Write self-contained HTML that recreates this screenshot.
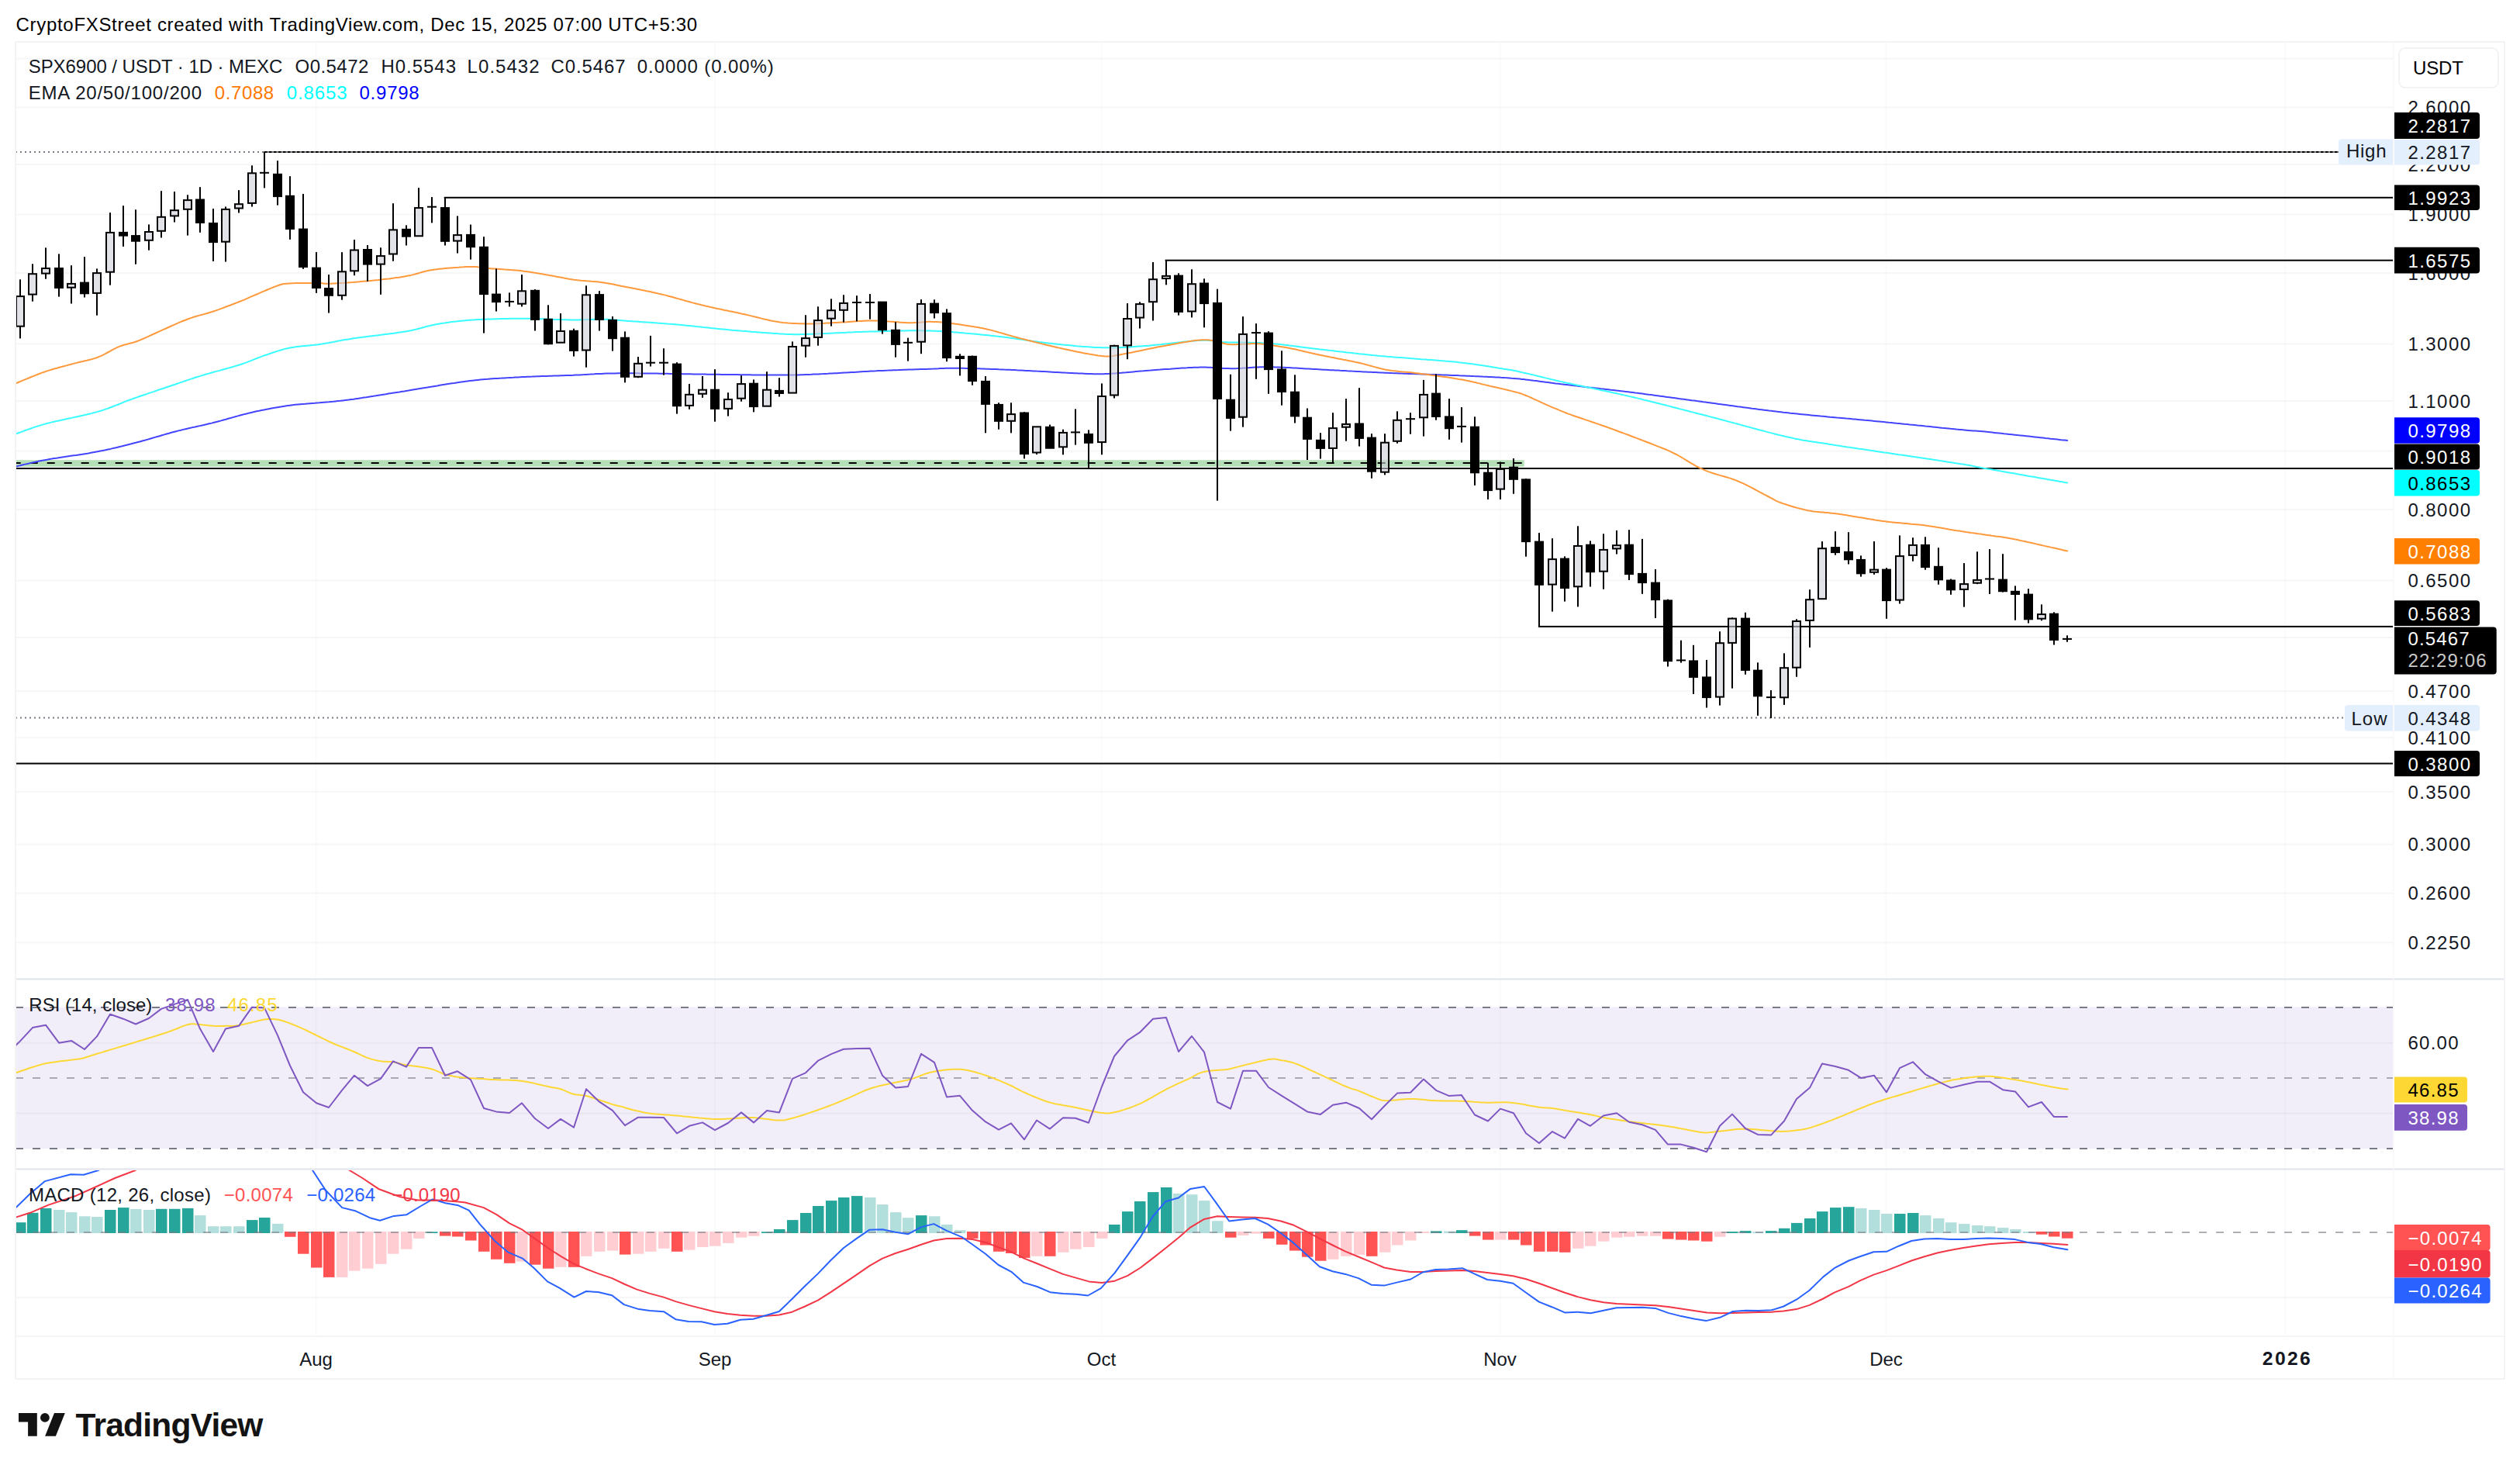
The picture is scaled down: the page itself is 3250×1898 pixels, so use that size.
<!DOCTYPE html>
<html><head><meta charset="utf-8"><title>SPX6900 / USDT chart</title>
<style>html,body{margin:0;padding:0;background:#fff;} body{width:3250px;height:1898px;overflow:hidden;} svg{display:block;}</style>
</head><body>
<svg width="3250" height="1898" viewBox="0 0 3250 1898" font-family="'Liberation Sans', Arial, sans-serif">
<defs>
<clipPath id="cm"><rect x="20" y="54" width="3066" height="1208"/></clipPath>
<clipPath id="cr"><rect x="20" y="1263" width="3066" height="244"/></clipPath>
<clipPath id="cd"><rect x="20" y="1509" width="3066" height="213"/></clipPath>
</defs>
<rect x="0" y="0" width="3250" height="1898" fill="#ffffff"/>
<text x="20.6" y="40.4" font-size="24" fill="#000000" textLength="878.6" lengthAdjust="spacing">CryptoFXStreet created with TradingView.com, Dec 15, 2025 07:00 UTC+5:30</text>
<rect x="20" y="74.6" width="3066" height="2" fill="rgba(42,46,57,0.045)"/>
<rect x="20" y="137.5" width="3066" height="2" fill="rgba(42,46,57,0.045)"/>
<rect x="20" y="211" width="3066" height="2" fill="rgba(42,46,57,0.045)"/>
<rect x="20" y="275.5" width="3066" height="2" fill="rgba(42,46,57,0.045)"/>
<rect x="20" y="351.1" width="3066" height="2" fill="rgba(42,46,57,0.045)"/>
<rect x="20" y="442.5" width="3066" height="2" fill="rgba(42,46,57,0.045)"/>
<rect x="20" y="516" width="3066" height="2" fill="rgba(42,46,57,0.045)"/>
<rect x="20" y="580.5" width="3066" height="2" fill="rgba(42,46,57,0.045)"/>
<rect x="20" y="656.1" width="3066" height="2" fill="rgba(42,46,57,0.045)"/>
<rect x="20" y="747.5" width="3066" height="2" fill="rgba(42,46,57,0.045)"/>
<rect x="20" y="821" width="3066" height="2" fill="rgba(42,46,57,0.045)"/>
<rect x="20" y="890.2" width="3066" height="2" fill="rgba(42,46,57,0.045)"/>
<rect x="20" y="950.2" width="3066" height="2" fill="rgba(42,46,57,0.045)"/>
<rect x="20" y="1019.9" width="3066" height="2" fill="rgba(42,46,57,0.045)"/>
<rect x="20" y="1087.7" width="3066" height="2" fill="rgba(42,46,57,0.045)"/>
<rect x="20" y="1150.7" width="3066" height="2" fill="rgba(42,46,57,0.045)"/>
<rect x="20" y="1214.3" width="3066" height="2" fill="rgba(42,46,57,0.045)"/>
<rect x="406.5" y="54" width="2" height="1668" fill="rgba(42,46,57,0.018)"/>
<rect x="921" y="54" width="2" height="1668" fill="rgba(42,46,57,0.018)"/>
<rect x="1419.5" y="54" width="2" height="1668" fill="rgba(42,46,57,0.018)"/>
<rect x="1933.5" y="54" width="2" height="1668" fill="rgba(42,46,57,0.018)"/>
<rect x="2431.5" y="54" width="2" height="1668" fill="rgba(42,46,57,0.018)"/>
<rect x="2946" y="54" width="2" height="1668" fill="rgba(42,46,57,0.018)"/>
<rect x="20" y="1298.5" width="3066" height="182.5" fill="rgba(126,87,194,0.1)"/>
<rect x="20" y="1343.8" width="3066" height="2" fill="rgba(42,46,57,0.045)"/>
<rect x="20" y="1434.5" width="3066" height="2" fill="rgba(42,46,57,0.045)"/>
<rect x="20" y="1672" width="3066" height="2" fill="rgba(42,46,57,0.045)"/>
<g clip-path="url(#cm)">
<rect x="20" y="593.2" width="1945.7" height="8.6" fill="#b5dfb7"/>
<line x1="16.7" y1="597" x2="1963" y2="597" stroke="#000" stroke-width="2" stroke-dasharray="10 12"/>
<line x1="20" y1="196.1" x2="3086" y2="196.1" stroke="#787b86" stroke-width="2" stroke-dasharray="2 4"/>
<line x1="20" y1="925.5" x2="3086" y2="925.5" stroke="#787b86" stroke-width="2" stroke-dasharray="2 4"/>
<line x1="340.5" y1="196.1" x2="3086" y2="196.1" stroke="#000" stroke-width="2" stroke-dasharray="4 2"/>
<rect x="572.7" y="253.8" width="2513.3" height="2" fill="#000"/>
<rect x="1502.6" y="334.7" width="1583.4" height="2" fill="#000"/>
<rect x="1983.9" y="806.9" width="1102.1" height="2" fill="#000"/>
<rect x="20" y="603" width="3066" height="2" fill="#000"/>
<rect x="20" y="983.5" width="3066" height="2" fill="#000"/>
<polyline points="20.7,601.5 22.5,601.1 24.5,600.6 26.9,600 29.6,599.3 32.5,598.6 35.7,597.9 39.1,597.1 42.7,596.2 46.5,595.4 50.5,594.5 54.7,593.7 59,592.9 61.5,592.5 64.1,592 66.8,591.6 69.6,591.1 72.6,590.7 75.6,590.2 78.7,589.7 81.8,589.3 85.1,588.8 88.3,588.3 91.6,587.8 94.9,587.3 98.2,586.9 101.5,586.4 104.7,585.9 107.9,585.4 111.1,584.9 114.2,584.4 117.3,583.8 120.3,583.3 123.1,582.8 125.9,582.3 129.4,581.6 132.7,580.9 136,580.3 139.3,579.6 142.4,578.9 145.5,578.1 148.6,577.4 151.6,576.7 154.6,576 157.6,575.3 160.5,574.5 163.4,573.8 166.4,573 169.3,572.3 172.2,571.5 175.1,570.8 178.1,570 181.2,569.2 184.4,568.3 187.5,567.5 190.6,566.6 193.6,565.7 196.7,564.8 199.7,563.9 202.8,563 205.8,562.2 208.8,561.3 211.8,560.4 214.8,559.5 217.9,558.7 220.9,557.8 223.9,557 227,556.2 230.1,555.4 233.1,554.7 236.2,553.9 239.2,553.2 242.3,552.5 245.4,551.8 248.4,551.1 251.5,550.5 254.6,549.8 257.6,549.1 260.7,548.4 263.8,547.7 266.8,547 269.9,546.3 272.9,545.6 276,544.8 279.1,544 282.1,543.2 285.2,542.4 288.2,541.5 291.3,540.7 294.3,539.8 297.4,539 300.4,538.1 303.5,537.2 306.6,536.4 309.6,535.5 312.7,534.7 315.7,533.9 318.8,533.2 321.8,532.4 324.9,531.7 328,531 331.1,530.3 334.2,529.7 337.3,529 340.5,528.4 343.6,527.8 346.8,527.2 349.9,526.6 353,526 356.1,525.5 359.2,525 362.2,524.5 365.2,524 368.2,523.5 371.1,523.1 373.9,522.7 377.3,522.2 380.7,521.8 384,521.5 387.2,521.2 390.4,520.9 393.5,520.7 396.7,520.4 399.7,520.2 402.8,520 405.9,519.8 408.9,519.5 411.9,519.3 415,519 418.2,518.7 421.3,518.4 424.2,518.2 427,517.9 429.9,517.7 432.7,517.4 435.7,517.1 438.8,516.8 442.1,516.4 445.6,516 449.4,515.6 453.5,515 456,514.7 458.6,514.3 461.2,513.9 463.9,513.5 466.7,513.1 469.5,512.6 472.4,512.2 475.4,511.7 478.4,511.2 481.5,510.8 484.6,510.3 487.8,509.7 491.1,509.2 494.4,508.7 497.7,508.2 501.1,507.6 504.5,507.1 508,506.5 511.5,505.9 515.1,505.4 518.7,504.8 521.4,504.4 524.1,503.9 526.9,503.5 529.8,503 532.7,502.5 535.7,502 538.7,501.5 541.7,501 544.8,500.5 547.9,500 551.1,499.5 554.2,498.9 557.4,498.4 560.6,497.9 563.8,497.4 567,496.8 570.2,496.3 573.3,495.8 576.5,495.3 579.6,494.8 582.7,494.3 585.7,493.9 588.7,493.4 591.7,493 594.6,492.6 597.5,492.2 600.3,491.8 603,491.4 605.7,491.1 609.3,490.7 612.8,490.3 616.2,489.9 619.5,489.6 622.7,489.3 625.9,489 629,488.8 632.1,488.5 635.2,488.3 638.2,488.1 641.1,487.9 644.1,487.7 647,487.6 650,487.4 652.9,487.2 655.8,487.1 658.8,486.9 661.8,486.8 664.8,486.6 667.8,486.5 670.9,486.3 674,486.1 677.1,486 680.2,485.8 683.3,485.7 686.4,485.6 689.5,485.4 692.6,485.3 695.7,485.2 698.8,485.1 701.9,485 705.1,484.9 708.2,484.8 711.3,484.7 714.4,484.6 717.5,484.5 720.6,484.4 723.7,484.3 726.8,484.2 729.9,484.1 733,484 736.1,483.9 739.1,483.8 742.1,483.6 744.9,483.5 747.7,483.4 750.4,483.2 753.1,483.1 755.7,482.9 758.4,482.7 761,482.6 763.8,482.4 766.5,482.3 769.4,482.1 772.3,482 775.3,481.9 778.5,481.7 781.8,481.6 785.3,481.5 789,481.5 792.9,481.4 797,481.3 801.3,481.3 803.7,481.3 806.2,481.3 808.7,481.3 811.4,481.3 814.1,481.3 816.9,481.3 819.7,481.3 822.6,481.3 825.6,481.4 828.7,481.4 831.7,481.4 834.9,481.5 838,481.5 841.2,481.5 844.5,481.6 847.7,481.6 851,481.7 854.3,481.7 857.7,481.8 861,481.8 864.3,481.9 867.7,481.9 871,482 874.4,482.1 877.7,482.1 881,482.2 884.3,482.2 887.6,482.3 890.9,482.3 894.1,482.4 897.3,482.4 900.4,482.5 903.5,482.5 906.5,482.6 909.5,482.6 912.5,482.7 915.4,482.7 918.2,482.7 920.9,482.8 923.6,482.8 927.2,482.8 930.8,482.9 934.3,482.9 937.8,483 941.3,483 944.7,483.1 948.1,483.1 951.4,483.1 954.7,483.2 958,483.2 961.2,483.3 964.4,483.3 967.5,483.3 970.6,483.4 973.7,483.4 976.7,483.5 979.6,483.5 982.6,483.5 985.5,483.5 988.3,483.6 991.1,483.6 993.9,483.6 996.6,483.6 999.3,483.6 1001.9,483.6 1004.5,483.6 1007,483.6 1009.5,483.6 1012,483.6 1016,483.6 1019.7,483.5 1023.2,483.5 1026.5,483.4 1029.6,483.4 1032.6,483.3 1035.5,483.2 1038.2,483.1 1041,483 1043.7,482.9 1046.4,482.8 1049.2,482.6 1052.1,482.5 1055,482.4 1058.2,482.2 1061.5,482.1 1065,481.9 1067.7,481.8 1070.5,481.6 1073.4,481.5 1076.3,481.3 1079.3,481.2 1082.3,481 1085.4,480.8 1088.5,480.6 1091.7,480.5 1094.9,480.3 1098,480.1 1101.2,479.9 1104.5,479.7 1107.7,479.5 1110.9,479.3 1114.1,479.1 1117.3,479 1120.4,478.8 1123.6,478.6 1126.7,478.4 1129.7,478.3 1132.7,478.1 1135.7,478 1138.9,477.9 1142.2,477.7 1145.5,477.6 1148.8,477.4 1152.1,477.3 1155.4,477.2 1158.7,477.1 1161.9,476.9 1165.2,476.8 1168.4,476.7 1171.6,476.6 1174.8,476.5 1177.9,476.4 1180.9,476.3 1183.9,476.2 1186.8,476.1 1189.6,476 1192.4,475.9 1195,475.9 1197.6,475.8 1200,475.7 1203.9,475.6 1207.2,475.4 1210.2,475.3 1212.9,475.1 1215.3,475 1217.7,474.9 1220.1,474.8 1222.6,474.7 1225.3,474.7 1228.4,474.7 1231.9,474.7 1236,474.7 1238.3,474.7 1240.8,474.8 1243.2,474.8 1245.8,474.9 1248.5,474.9 1251.2,475 1253.9,475.1 1256.8,475.2 1259.7,475.2 1262.7,475.3 1265.7,475.4 1268.8,475.5 1271.9,475.7 1275.1,475.8 1278.3,475.9 1281.6,476 1284.9,476.1 1288.2,476.3 1291.6,476.4 1295.1,476.6 1298.5,476.7 1302,476.8 1305.5,477 1308.3,477.1 1311.1,477.3 1314.1,477.4 1317.1,477.5 1320.2,477.7 1323.4,477.9 1326.7,478 1330,478.2 1333.4,478.4 1336.7,478.6 1340.2,478.7 1343.6,478.9 1347,479.1 1350.5,479.3 1353.9,479.5 1357.3,479.7 1360.7,479.9 1364,480 1367.3,480.2 1370.5,480.4 1373.7,480.6 1376.8,480.7 1379.8,480.9 1382.8,481 1385.6,481.2 1388.3,481.3 1390.9,481.4 1393.4,481.5 1395.7,481.6 1397.9,481.7 1403.1,481.9 1407.4,482 1410.9,482.2 1413.8,482.2 1416.2,482.3 1418.5,482.3 1420.6,482.2 1423,482.2 1425.6,482 1428.7,481.9 1432.5,481.7 1435,481.6 1437.6,481.4 1440.3,481.2 1443.1,481 1446,480.8 1449,480.5 1452.1,480.3 1455.2,480 1458.3,479.7 1461.5,479.4 1464.7,479.1 1467.9,478.8 1471.2,478.5 1474.4,478.3 1477.6,478 1480.8,477.7 1484,477.5 1487.1,477.2 1490.2,477 1493.3,476.8 1496.4,476.6 1499.5,476.3 1502.6,476.1 1505.8,475.9 1509,475.7 1512.2,475.4 1515.3,475.2 1518.5,475 1521.7,474.8 1524.8,474.6 1527.9,474.4 1530.9,474.3 1533.9,474.1 1536.9,474 1539.8,473.8 1542.6,473.7 1545.3,473.7 1548,473.6 1551.5,473.6 1554.8,473.6 1558,473.7 1561,473.8 1564,474 1566.8,474.1 1569.7,474.3 1572.5,474.5 1575.3,474.7 1578.1,474.9 1581,475 1583.9,475.1 1586.9,475.2 1590,475.2 1592.9,475.2 1595.8,475.1 1598.6,474.9 1601.4,474.8 1604.2,474.6 1607,474.4 1609.9,474.2 1612.8,474 1615.9,473.8 1619,473.6 1622.2,473.4 1625.7,473.3 1629.2,473.2 1633,473.2 1637,473.2 1639.5,473.2 1642.1,473.3 1644.8,473.4 1647.5,473.5 1650.4,473.6 1653.2,473.7 1656.2,473.8 1659.2,474 1662.3,474.1 1665.3,474.3 1668.5,474.5 1671.6,474.6 1674.8,474.8 1678,475 1681.3,475.2 1684.5,475.4 1687.7,475.6 1691,475.8 1694.2,476 1697.4,476.1 1700.6,476.3 1703.8,476.5 1706.9,476.7 1710,476.8 1713.1,477 1716.1,477.2 1719.2,477.3 1722.2,477.5 1725.3,477.6 1728.3,477.8 1731.4,477.9 1734.4,478.1 1737.5,478.3 1740.5,478.4 1743.5,478.6 1746.6,478.7 1749.6,478.9 1752.7,479 1755.7,479.2 1758.8,479.4 1761.8,479.5 1764.8,479.7 1767.9,479.8 1770.9,480 1774,480.1 1777,480.2 1780.1,480.4 1783.1,480.5 1786.2,480.7 1789.2,480.8 1792.3,480.9 1795.3,481.1 1798.5,481.2 1801.6,481.3 1804.7,481.4 1807.9,481.5 1811,481.7 1814.2,481.8 1817.4,481.9 1820.6,482 1823.7,482.1 1826.9,482.2 1830,482.3 1833.1,482.4 1836.2,482.5 1839.3,482.7 1842.4,482.8 1845.4,482.9 1848.4,483 1851.3,483.1 1854.2,483.2 1857.1,483.3 1859.9,483.4 1862.6,483.5 1865.3,483.6 1868.8,483.7 1872.2,483.9 1875.6,484 1878.9,484.1 1882.2,484.3 1885.4,484.4 1888.5,484.5 1891.6,484.7 1894.7,484.8 1897.7,484.9 1900.6,485.1 1903.5,485.2 1906.4,485.3 1909.2,485.4 1911.9,485.6 1914.6,485.7 1917.2,485.8 1919.8,486 1922.3,486.1 1926.1,486.3 1929.5,486.5 1932.6,486.6 1935.6,486.8 1938.4,486.9 1941.1,487.1 1943.9,487.2 1946.7,487.4 1949.7,487.7 1952.8,487.9 1956.2,488.2 1960,488.6 1962.5,488.9 1965.1,489.1 1967.6,489.4 1970.2,489.7 1972.9,490.1 1975.6,490.4 1978.4,490.8 1981.2,491.1 1984.1,491.5 1987,491.9 1990,492.3 1993.1,492.7 1996.3,493.1 1999.5,493.5 2002.9,493.9 2006.3,494.4 2009.8,494.8 2013.4,495.3 2017.1,495.7 2019.7,496 2022.3,496.3 2025.1,496.6 2027.9,497 2030.7,497.3 2033.6,497.6 2036.5,498 2039.5,498.3 2042.6,498.7 2045.6,499 2048.7,499.4 2051.9,499.7 2055,500.1 2058.2,500.4 2061.4,500.8 2064.6,501.2 2067.9,501.5 2071.1,501.9 2074.3,502.3 2077.6,502.7 2080.8,503 2084,503.4 2087.2,503.8 2090.4,504.2 2093.6,504.6 2096.7,504.9 2099.8,505.3 2102.9,505.7 2105.9,506.1 2109,506.5 2111.9,506.8 2114.9,507.2 2117.8,507.6 2120.8,508 2123.7,508.4 2126.6,508.8 2129.5,509.1 2132.3,509.5 2135.2,509.9 2138.1,510.3 2141,510.7 2144,511.1 2146.9,511.5 2149.9,511.9 2152.9,512.3 2155.9,512.7 2158.9,513.1 2162,513.5 2165.2,514 2168.3,514.4 2171.6,514.8 2174.9,515.3 2178.2,515.7 2181.6,516.2 2185.1,516.6 2188.6,517.1 2191.3,517.4 2193.9,517.8 2196.7,518.2 2199.4,518.5 2202.2,518.9 2205,519.3 2207.9,519.7 2210.8,520.1 2213.7,520.5 2216.6,520.9 2219.6,521.3 2222.6,521.7 2225.6,522.1 2228.6,522.5 2231.7,522.9 2234.7,523.3 2237.8,523.7 2240.9,524.2 2244,524.6 2247.1,525 2250.2,525.4 2253.3,525.8 2256.4,526.2 2259.6,526.7 2262.7,527.1 2265.8,527.5 2269,527.9 2272.1,528.3 2275.2,528.7 2278.3,529.1 2281.5,529.5 2284.6,529.8 2287.7,530.2 2290.7,530.6 2293.8,530.9 2296.8,531.3 2299.9,531.7 2302.9,532 2305.9,532.3 2308.9,532.7 2311.9,533 2314.9,533.3 2317.9,533.6 2320.9,533.9 2323.9,534.2 2326.9,534.5 2330,534.8 2333,535.1 2336,535.4 2339,535.7 2342,536 2345,536.3 2348,536.6 2351,536.8 2354,537.1 2357,537.4 2360,537.7 2363,537.9 2366,538.2 2369,538.5 2372,538.7 2375,539 2378,539.3 2381,539.6 2384,539.8 2387,540.1 2390,540.4 2393.1,540.6 2396.1,540.9 2399.1,541.2 2402.1,541.5 2405.1,541.8 2408.1,542 2411.1,542.3 2414.1,542.6 2417.1,542.9 2420.1,543.2 2423.2,543.5 2426.4,543.8 2429.6,544.1 2432.8,544.4 2436,544.8 2439.3,545.1 2442.7,545.4 2446,545.8 2449.4,546.1 2452.7,546.4 2456.1,546.8 2459.5,547.1 2462.9,547.5 2466.3,547.8 2469.6,548.1 2473,548.5 2476.3,548.8 2479.6,549.1 2482.9,549.5 2486.1,549.8 2489.3,550.1 2492.5,550.4 2495.6,550.7 2498.6,551.1 2501.6,551.4 2504.6,551.7 2507.4,551.9 2510.2,552.2 2513,552.5 2515.6,552.8 2518.1,553 2520.6,553.2 2523,553.5 2525.2,553.7 2527.4,553.9 2529.5,554.1 2531.4,554.3 2537.9,554.9 2542,555.2 2544.4,555.4 2545.7,555.4 2546.7,555.5 2547.9,555.5 2550.1,555.7 2553.9,556 2560,556.6 2562,556.8 2564.3,557 2566.7,557.3 2569.3,557.6 2572,557.9 2574.9,558.2 2578,558.5 2581.1,558.8 2584.4,559.2 2587.8,559.5 2591.2,559.9 2594.8,560.3 2598.4,560.7 2602,561.1 2605.7,561.4 2609.3,561.8 2613,562.2 2616.7,562.6 2620.4,563 2624,563.4 2627.6,563.8 2631.2,564.2 2634.7,564.6 2638,565 2641.3,565.3 2644.5,565.7 2647.6,566 2650.5,566.3 2653.3,566.6 2655.9,566.9 2658.4,567.2 2660.6,567.4 2662.7,567.6 2664.6,567.8 2666.2,568" fill="none" stroke="#4444ff" stroke-width="2" stroke-linejoin="round" stroke-linecap="round"/>
<polyline points="20.7,559.4 22.5,558.8 24.5,558 26.9,557.1 29.6,556.1 32.5,555 35.7,553.9 39.1,552.7 42.7,551.4 46.5,550.1 50.5,548.9 54.7,547.6 59,546.4 61.5,545.7 64.1,545.1 66.9,544.4 69.7,543.7 72.7,543.1 75.8,542.4 79,541.7 82.2,541 85.5,540.3 88.8,539.6 92.1,538.9 95.4,538.1 98.7,537.4 102,536.7 105.3,536 108.5,535.3 111.7,534.5 114.7,533.8 117.7,533.1 120.6,532.3 123.3,531.6 125.9,530.9 129.8,529.8 133.4,528.6 136.9,527.4 140.3,526.2 143.5,525 146.6,523.8 149.6,522.6 152.5,521.5 155.4,520.3 158.3,519.1 161.2,517.9 164.1,516.8 167,515.7 170,514.6 173.2,513.5 176.4,512.4 179.5,511.3 182.5,510.2 185.6,509.2 188.6,508.2 191.6,507.1 194.7,506.1 197.8,505.1 200.9,504 204.1,502.9 207.4,501.8 210.8,500.7 213.6,499.7 216.5,498.8 219.5,497.8 222.5,496.7 225.5,495.7 228.5,494.7 231.6,493.6 234.7,492.6 237.9,491.5 241,490.4 244.1,489.4 247.3,488.4 250.4,487.3 253.5,486.3 256.6,485.4 259.7,484.4 262.8,483.5 265.9,482.5 269.1,481.6 272.3,480.7 275.5,479.8 278.7,478.9 282,478.1 285.2,477.2 288.3,476.3 291.4,475.5 294.5,474.6 297.5,473.8 300.4,473 303.3,472.1 306,471.3 308.6,470.5 312.5,469.2 316.2,467.9 319.6,466.6 322.9,465.4 326,464.1 329,462.9 332,461.7 335,460.6 338.1,459.4 341.3,458.3 344.5,457.2 347.7,456.1 350.8,455 353.9,454 357.1,452.9 360.3,452 363.5,451 366.8,450.1 370.3,449.3 373.9,448.5 376.8,448 379.8,447.5 382.9,447.1 386,446.7 389.2,446.3 392.4,446 395.7,445.7 399,445.4 402.3,445.1 405.5,444.8 408.7,444.4 411.9,444 415,443.6 418.2,443.1 421.2,442.6 424.1,442.1 426.9,441.5 429.7,441 432.5,440.4 435.4,439.8 438.5,439.3 441.8,438.6 445.3,438 449.2,437.4 453.5,436.7 455.9,436.3 458.5,436 461.3,435.6 464.1,435.2 467.1,434.8 470.2,434.4 473.3,434 476.6,433.6 479.9,433.2 483.2,432.8 486.5,432.4 489.9,432 493.2,431.6 496.6,431.1 499.8,430.7 503.1,430.3 506.2,429.9 509.3,429.5 512.3,429 515.2,428.6 517.9,428.2 520.6,427.8 523,427.4 527,426.7 530.7,426 534,425.2 537.2,424.5 540.1,423.7 542.9,423 545.6,422.2 548.2,421.5 550.8,420.8 553.5,420.2 556.2,419.5 559.1,418.9 562.2,418.3 565.1,417.8 568,417.3 570.8,416.8 573.7,416.4 576.5,415.9 579.4,415.5 582.3,415.1 585.3,414.7 588.4,414.4 591.6,414 594.9,413.7 598.3,413.4 601.9,413.1 605.7,412.8 608.3,412.6 611.1,412.5 613.9,412.3 616.8,412.1 619.7,412 622.7,411.8 625.8,411.7 629,411.6 632.1,411.5 635.3,411.4 638.6,411.2 641.8,411.2 645.1,411.1 648.4,411 651.6,410.9 654.9,410.9 658.2,410.8 661.4,410.8 664.6,410.7 667.8,410.7 670.9,410.7 674,410.7 677.2,410.7 680.4,410.8 683.6,410.8 686.9,410.9 690.2,411 693.4,411.1 696.7,411.2 700,411.3 703.2,411.4 706.5,411.5 709.7,411.6 712.8,411.8 716,411.9 719.1,412 722.1,412.1 725,412.2 727.9,412.2 730.7,412.3 733.5,412.4 736.1,412.4 739.9,412.4 743.6,412.4 747.1,412.4 750.5,412.3 753.8,412.2 756.9,412.1 760,412 763,411.9 765.9,411.8 768.8,411.8 771.5,411.7 774.3,411.7 776.9,411.7 779.6,411.7 783,411.8 786,411.9 788.7,412.1 791.2,412.3 793.7,412.5 796.3,412.7 799.1,413 802.2,413.3 805.8,413.6 810,413.9 812.3,414.1 814.8,414.2 817.4,414.4 820,414.6 822.8,414.8 825.7,415 828.6,415.2 831.6,415.4 834.7,415.6 837.8,415.8 841,416 844.3,416.2 847.5,416.5 850.8,416.7 854.1,417 857.4,417.2 860.8,417.5 864.1,417.7 867.4,418 870.7,418.3 873.6,418.6 876.5,418.8 879.4,419.1 882.4,419.4 885.4,419.7 888.4,420 891.5,420.3 894.5,420.6 897.6,421 900.7,421.3 903.8,421.6 906.9,422 910.1,422.3 913.2,422.6 916.3,423 919.5,423.3 922.6,423.6 925.8,423.9 928.9,424.2 932,424.5 935.1,424.8 938.2,425.1 941.3,425.4 944.4,425.7 947.6,425.9 950.8,426.2 954,426.5 957.3,426.8 960.6,427 964,427.3 967.3,427.6 970.6,427.9 973.9,428.1 977.2,428.4 980.5,428.6 983.7,428.9 986.9,429.1 990,429.3 993.1,429.5 996.1,429.7 999,429.9 1001.8,430.1 1004.5,430.3 1007.1,430.4 1009.6,430.6 1012,430.7 1016.4,430.9 1020.1,431.1 1023.2,431.2 1026,431.2 1028.4,431.2 1030.9,431.2 1033.3,431.1 1036.1,431.1 1039.2,431 1042.9,430.8 1047.3,430.7 1049.7,430.6 1052.1,430.5 1054.7,430.4 1057.4,430.3 1060.1,430.2 1062.9,430.1 1065.8,429.9 1068.8,429.8 1071.9,429.7 1075,429.5 1078.1,429.3 1081.3,429.2 1084.6,429 1087.9,428.9 1091.2,428.7 1094.5,428.6 1097.9,428.4 1101.2,428.3 1104.6,428.1 1108,428 1111.3,427.9 1114.7,427.8 1118,427.7 1120.8,427.6 1123.7,427.5 1126.6,427.5 1129.5,427.4 1132.5,427.3 1135.5,427.2 1138.4,427.1 1141.5,427 1144.5,426.9 1147.5,426.8 1150.6,426.7 1153.6,426.7 1156.7,426.6 1159.8,426.5 1162.9,426.5 1166,426.4 1169.1,426.4 1172.2,426.3 1175.3,426.3 1178.4,426.3 1181.5,426.3 1184.6,426.3 1187.7,426.3 1190.8,426.4 1193.9,426.4 1196.9,426.5 1200,426.6 1203.1,426.7 1206.1,426.8 1209.2,427 1212.3,427.1 1215.4,427.3 1218.5,427.5 1221.7,427.7 1224.8,427.9 1227.9,428.1 1231.1,428.4 1234.2,428.6 1237.3,428.9 1240.4,429.1 1243.5,429.4 1246.7,429.7 1249.7,429.9 1252.8,430.2 1255.9,430.5 1258.9,430.8 1262,431.1 1265,431.4 1267.9,431.7 1270.9,432 1273.8,432.3 1276.7,432.6 1279.6,432.9 1282.4,433.2 1285.7,433.6 1288.9,433.9 1292.1,434.3 1295.2,434.7 1298.3,435.1 1301.4,435.5 1304.5,435.9 1307.5,436.3 1310.5,436.8 1313.4,437.2 1316.4,437.6 1319.3,438.1 1322.3,438.5 1325.2,438.9 1328.1,439.3 1331,439.8 1334,440.2 1336.9,440.6 1339.8,441 1342.8,441.3 1345.7,441.7 1348.7,442.1 1351.7,442.4 1354.7,442.7 1357.8,443.1 1360.8,443.4 1363.9,443.7 1367,444 1370.1,444.4 1373.2,444.7 1376.3,445 1379.4,445.3 1382.5,445.6 1385.5,445.9 1388.6,446.2 1391.7,446.4 1394.7,446.7 1397.8,446.9 1400.8,447.1 1403.7,447.3 1406.7,447.5 1409.6,447.7 1412.5,447.9 1415.4,448 1418.2,448.1 1421,448.2 1424.3,448.3 1427.5,448.3 1430.6,448.3 1433.7,448.3 1436.7,448.3 1439.7,448.2 1442.6,448.1 1445.5,448 1448.4,447.9 1451.3,447.8 1454.2,447.6 1457.1,447.4 1460,447.3 1463,447 1466,446.8 1469.1,446.6 1472.2,446.4 1475.4,446.1 1478.7,445.9 1481.5,445.7 1484.4,445.4 1487.4,445.1 1490.5,444.8 1493.7,444.5 1496.9,444.2 1500.1,443.8 1503.4,443.4 1506.7,443.1 1510,442.7 1513.3,442.3 1516.6,441.9 1519.8,441.5 1523,441.2 1526.2,440.8 1529.3,440.5 1532.3,440.2 1535.2,439.9 1538,439.6 1540.7,439.4 1543.3,439.2 1545.7,439 1548,438.9 1552.6,438.8 1556.4,438.8 1559.6,438.9 1562.3,439.2 1564.8,439.5 1567.2,439.9 1569.7,440.3 1572.6,440.6 1576,441 1580,441.2 1582.4,441.3 1584.9,441.4 1587.6,441.4 1590.4,441.5 1593.2,441.5 1596.2,441.6 1599.2,441.6 1602.2,441.7 1605.4,441.7 1608.5,441.8 1611.7,441.8 1614.9,441.9 1618.1,441.9 1621.4,442 1624.6,442.1 1627.7,442.3 1630.9,442.4 1634,442.6 1637,442.8 1640,443 1642.9,443.3 1645.8,443.5 1648.7,443.8 1651.5,444.1 1654.3,444.4 1657.2,444.8 1660,445.1 1662.9,445.5 1665.7,445.8 1668.6,446.2 1671.6,446.6 1674.6,447 1677.6,447.4 1680.7,447.8 1683.9,448.2 1687.2,448.6 1690.5,449 1694,449.4 1696.7,449.7 1699.5,450 1702.4,450.4 1705.3,450.7 1708.3,451.1 1711.4,451.4 1714.5,451.8 1717.6,452.1 1720.8,452.5 1724,452.9 1727.2,453.3 1730.5,453.6 1733.7,454 1736.9,454.4 1740.2,454.7 1743.4,455.1 1746.6,455.5 1749.7,455.8 1752.8,456.2 1755.9,456.5 1758.9,456.8 1761.8,457.1 1764.7,457.4 1767.5,457.7 1770.2,458 1773.7,458.3 1777,458.7 1780.3,459 1783.5,459.2 1786.6,459.5 1789.6,459.8 1792.6,460 1795.6,460.2 1798.5,460.5 1801.4,460.7 1804.2,460.9 1807.1,461.1 1809.9,461.3 1812.8,461.6 1815.6,461.8 1818.5,462 1821.4,462.2 1824.3,462.5 1827.3,462.7 1830.3,462.9 1833.3,463.2 1836.3,463.4 1839.3,463.6 1842.3,463.9 1845.3,464.1 1848.3,464.3 1851.3,464.5 1854.3,464.7 1857.3,465 1860.3,465.2 1863.3,465.5 1866.3,465.7 1869.3,466 1872.3,466.2 1875.3,466.5 1878.3,466.8 1881.3,467.2 1884.3,467.5 1887.4,467.9 1890.5,468.3 1893.7,468.7 1897,469.1 1900.3,469.6 1903.6,470.1 1907,470.6 1910.3,471.1 1913.6,471.6 1916.9,472.1 1920.1,472.6 1923.2,473.1 1926.2,473.6 1929.1,474 1931.9,474.5 1934.5,474.9 1937,475.3 1939.3,475.7 1941.4,476 1946.3,476.7 1949,477.1 1950.7,477.4 1952.4,477.7 1955.1,478.3 1960,479.4 1962.1,479.9 1964.2,480.4 1966.6,480.9 1969,481.5 1971.5,482.1 1974.2,482.7 1977,483.4 1979.9,484.1 1982.8,484.8 1985.9,485.6 1989.1,486.3 1992.3,487.1 1995.6,487.9 1999,488.7 2002.5,489.6 2006.1,490.4 2009.7,491.2 2013.4,492.1 2017.1,492.9 2019.7,493.5 2022.3,494.1 2025,494.6 2027.7,495.2 2030.5,495.8 2033.3,496.4 2036.2,497 2039.1,497.6 2042.1,498.2 2045,498.9 2048.1,499.5 2051.1,500.1 2054.2,500.8 2057.3,501.4 2060.5,502.1 2063.6,502.7 2066.8,503.4 2070,504.1 2073.3,504.8 2076.5,505.5 2079.8,506.2 2083.1,506.9 2086.3,507.6 2089.6,508.4 2093,509.1 2096.3,509.9 2099.6,510.6 2102.9,511.4 2105.7,512.1 2108.6,512.7 2111.5,513.4 2114.4,514.1 2117.3,514.8 2120.2,515.6 2123.2,516.3 2126.2,517 2129.1,517.8 2132.2,518.5 2135.2,519.3 2138.2,520 2141.3,520.8 2144.3,521.6 2147.4,522.3 2150.5,523.1 2153.6,523.9 2156.6,524.7 2159.7,525.5 2162.8,526.3 2165.9,527.1 2169,527.9 2172.1,528.7 2175.2,529.5 2178.3,530.3 2181.4,531.1 2184.5,531.9 2187.6,532.7 2190.7,533.5 2193.8,534.2 2196.8,535 2199.9,535.8 2202.9,536.6 2205.9,537.4 2209,538.2 2212.2,539 2215.3,539.8 2218.5,540.7 2221.7,541.5 2224.9,542.4 2228.1,543.3 2231.3,544.1 2234.6,545 2237.8,545.9 2241.1,546.8 2244.3,547.6 2247.5,548.5 2250.8,549.4 2254,550.3 2257.2,551.1 2260.3,552 2263.5,552.8 2266.6,553.7 2269.7,554.5 2272.7,555.3 2275.8,556.1 2278.7,556.9 2281.6,557.6 2284.5,558.4 2287.3,559.1 2290.1,559.8 2292.8,560.5 2295.4,561.1 2298,561.7 2300.5,562.3 2302.9,562.9 2306.9,563.8 2310.6,564.6 2314,565.4 2317.2,566 2320.3,566.6 2323.1,567.2 2325.9,567.7 2328.5,568.1 2331.1,568.5 2333.6,568.9 2336.1,569.3 2338.7,569.7 2341.3,570.1 2344,570.5 2346.9,570.9 2349.8,571.3 2353,571.8 2356.4,572.3 2360,572.9 2362.6,573.3 2365.2,573.7 2368,574.2 2370.7,574.6 2373.6,575 2376.5,575.5 2379.4,575.9 2382.4,576.4 2385.4,576.8 2388.5,577.3 2391.6,577.7 2394.7,578.2 2397.9,578.7 2401.1,579.1 2404.3,579.6 2407.5,580.1 2410.7,580.5 2413.9,581 2417.2,581.5 2420.4,582 2423.6,582.4 2426.8,582.9 2430,583.4 2433.2,583.8 2436.4,584.3 2439.5,584.8 2442.6,585.2 2445.7,585.7 2448.8,586.2 2452,586.6 2455.2,587.1 2458.4,587.6 2461.8,588.1 2465.1,588.6 2468.5,589.1 2471.9,589.6 2475.2,590.1 2478.6,590.6 2482,591.1 2485.4,591.6 2488.8,592.1 2492.1,592.6 2495.4,593.1 2498.7,593.6 2501.9,594.1 2505,594.5 2508.1,595 2511.1,595.5 2514,595.9 2516.8,596.3 2519.5,596.8 2522.2,597.2 2524.7,597.5 2527,597.9 2529.3,598.3 2531.4,598.6 2536.7,599.4 2540.1,600 2542.3,600.4 2543.8,600.7 2545.1,601 2546.8,601.4 2549.5,602 2553.7,602.8 2560,603.9 2562,604.3 2564.3,604.7 2566.7,605.1 2569.3,605.5 2572,606 2574.9,606.5 2578,607.1 2581.1,607.6 2584.4,608.2 2587.8,608.8 2591.2,609.4 2594.8,610 2598.4,610.6 2602,611.3 2605.7,611.9 2609.3,612.6 2613,613.2 2616.7,613.9 2620.4,614.5 2624,615.1 2627.6,615.8 2631.2,616.4 2634.7,617 2638,617.6 2641.3,618.2 2644.5,618.7 2647.6,619.2 2650.5,619.8 2653.3,620.2 2655.9,620.7 2658.4,621.1 2660.6,621.5 2662.7,621.9 2664.6,622.2 2666.2,622.5" fill="none" stroke="#38fcff" stroke-width="2" stroke-linejoin="round" stroke-linecap="round"/>
<polyline points="20.7,494.2 22.5,493.5 24.7,492.5 27.4,491.4 30.3,490.2 33.5,488.9 36.9,487.5 40.4,486 44,484.6 47.5,483.2 51,481.8 54.3,480.6 57.4,479.5 60.6,478.4 63.8,477.4 66.9,476.5 70,475.5 73.1,474.7 76.2,473.8 79.3,473 82.3,472.2 85.4,471.4 88.5,470.5 91.6,469.7 94.7,468.9 97.9,468.1 101.1,467.3 104.3,466.6 107.6,465.8 110.7,465.1 113.9,464.3 117,463.5 120.1,462.6 123,461.7 125.9,460.7 129.3,459.3 132.6,457.8 135.8,456.2 138.9,454.5 141.9,452.9 144.9,451.2 147.9,449.6 150.8,448.2 153.7,446.9 156.9,445.7 159.8,444.8 162.7,444 165.6,443.2 168.5,442.5 171.5,441.7 174.7,440.7 178.1,439.5 181,438.3 184.1,437 187.3,435.6 190.6,434.1 193.9,432.6 197.3,431 200.7,429.5 204.1,427.9 207.5,426.4 210.8,424.9 214.1,423.5 217.3,422 220.6,420.5 223.8,419.1 227.1,417.6 230.4,416.2 233.6,414.8 236.9,413.5 240.1,412.2 243.4,411 246.7,409.9 249.9,408.8 253.2,407.8 256.4,406.9 259.7,406 263,405.1 266.2,404.2 269.5,403.2 272.7,402.3 276,401.2 279.3,400.1 282.7,398.9 286.1,397.6 289.6,396.3 293,395 296.4,393.8 299.7,392.5 302.8,391.3 305.8,390.1 308.6,389 312.2,387.6 315.3,386.3 318.1,385.1 320.8,383.9 323.5,382.7 326.5,381.4 329.8,380 332.7,378.8 335.9,377.4 339.3,375.9 342.7,374.5 346.2,373 349.6,371.6 352.8,370.3 355.8,369.1 358.4,368.2 362,367 364.4,366.3 366.6,365.9 369.4,365.7 373.6,365.4 376,365.3 378.7,365.2 381.7,365.1 384.9,365 388.2,365 391.7,365 395.1,365 398.5,365 401.7,365 404.8,365 407.6,365 410,365 414.2,365.1 416.9,365.4 419.2,365.7 422.3,365.8 427.4,365.7 429.7,365.6 432.3,365.5 435,365.3 438,365.1 441.1,364.9 444.3,364.7 447.7,364.5 451.1,364.2 454.6,364 458.1,363.7 461.7,363.4 465.2,363.1 468.6,362.8 472,362.5 475.2,362.2 478.4,361.9 481.7,361.6 485,361.2 488.3,360.9 491.6,360.5 494.9,360.1 498.3,359.7 501.6,359.4 504.8,358.9 508,358.5 511.2,358.1 514.3,357.7 517.3,357.2 520.2,356.8 523,356.3 526.6,355.6 529.9,354.9 533.1,354.1 536.1,353.3 539,352.5 541.8,351.6 544.7,350.8 547.7,350 550.9,349.3 554.2,348.6 557.8,348 560.7,347.6 563.7,347.2 567,346.8 570.3,346.4 573.8,346.1 577.3,345.8 580.8,345.5 584.3,345.2 587.8,344.9 591.2,344.7 594.5,344.4 597.6,344.3 600.5,344.1 603.2,344 605.7,343.9 610,343.9 613.2,344 615.7,344.3 617.9,344.6 620.4,345.1 623.4,345.5 627.4,345.9 629.8,346.1 632.5,346.3 635.4,346.5 638.4,346.6 641.5,346.8 644.7,347 648.1,347.2 651.4,347.5 654.8,347.7 658.2,347.9 661.5,348.2 664.7,348.5 667.9,348.8 670.9,349.1 674.1,349.5 677.2,349.9 680.4,350.3 683.5,350.8 686.7,351.3 689.7,351.8 692.8,352.3 695.8,352.8 698.8,353.3 701.7,353.8 704.5,354.3 707.3,354.7 710,355.2 713.4,355.8 716.6,356.4 719.6,357 722.6,357.6 725.5,358.1 728.3,358.7 731.2,359.2 734.2,359.8 737.2,360.2 740.4,360.7 743.4,361.1 746.5,361.4 749.7,361.7 752.9,361.9 756.2,362.2 759.5,362.4 762.7,362.7 766,362.9 769.1,363.2 772.2,363.5 775.2,363.9 778.6,364.4 781.8,364.9 784.8,365.4 787.8,366 790.8,366.6 793.9,367.2 797.3,367.9 800.9,368.7 805,369.5 807.5,370 810.1,370.5 812.8,371 815.6,371.6 818.5,372.1 821.4,372.7 824.5,373.3 827.5,373.9 830.7,374.5 833.8,375.2 837,375.8 840.2,376.5 843.4,377.2 846.6,377.9 849.8,378.7 853,379.4 856,380.1 859,380.9 862.1,381.7 865.1,382.5 868.2,383.3 871.3,384.2 874.5,385.1 877.6,386 880.8,386.9 883.9,387.7 887.1,388.6 890.3,389.5 893.4,390.4 896.6,391.2 899.7,392 902.9,392.8 906,393.6 909.1,394.3 912.3,395.1 915.5,395.8 918.7,396.5 921.9,397.2 925.1,397.9 928.3,398.6 931.5,399.2 934.6,399.9 937.8,400.5 940.9,401.2 944.1,401.8 947.1,402.5 950.2,403.1 953.2,403.7 956.1,404.4 959,405 962.4,405.8 965.8,406.6 969.2,407.4 972.4,408.2 975.7,409 978.8,409.8 982,410.6 985.1,411.4 988.2,412.1 991.2,412.8 994.2,413.5 997.2,414.1 1000.2,414.6 1003.2,415.1 1006.6,415.6 1010,416 1013.2,416.3 1016.5,416.6 1019.7,416.8 1022.8,417 1026,417.1 1029.1,417.2 1032.3,417.3 1035.5,417.3 1038.7,417.4 1042,417.4 1045.1,417.4 1048.1,417.4 1051.2,417.3 1054.2,417.2 1057.3,417.1 1060.4,416.9 1063.5,416.8 1066.6,416.6 1069.8,416.4 1072.9,416.2 1076.1,416 1079.4,415.9 1082.6,415.7 1085.6,415.5 1088.7,415.4 1091.8,415.2 1095,414.9 1098.1,414.7 1101.3,414.5 1104.5,414.3 1107.7,414.1 1110.9,413.9 1114.1,413.7 1117.3,413.6 1120.5,413.5 1123.6,413.4 1126.8,413.4 1130,413.5 1133.2,413.6 1136.5,413.7 1139.9,414 1143.2,414.2 1146.5,414.5 1149.9,414.7 1153.1,415 1156.3,415.3 1159.5,415.6 1162.5,415.8 1165.5,416 1168.3,416.1 1171,416.2 1174.9,416.2 1178.5,416.1 1181.9,415.9 1185,415.7 1188.1,415.4 1191,415.2 1194,414.9 1196.9,414.8 1200,414.8 1203,414.9 1205.8,415 1208.5,415.1 1211.2,415.3 1214,415.5 1216.8,415.8 1219.9,416.1 1223.3,416.5 1227,417 1229.6,417.3 1232.4,417.7 1235.2,418.1 1238.2,418.5 1241.3,418.9 1244.5,419.4 1247.7,419.9 1251,420.4 1254.3,420.9 1257.6,421.5 1261,422 1264.3,422.7 1267.6,423.3 1270.8,424 1273.8,424.7 1276.8,425.4 1279.7,426.1 1282.6,426.9 1285.6,427.7 1288.6,428.6 1291.5,429.4 1294.5,430.3 1297.6,431.2 1300.7,432.1 1303.8,433 1307,433.9 1310.2,434.8 1313.6,435.7 1317,436.6 1319.8,437.3 1322.7,438 1325.6,438.8 1328.6,439.5 1331.7,440.3 1334.8,441.1 1337.9,441.9 1341.1,442.6 1344.3,443.4 1347.5,444.2 1350.7,445 1353.9,445.7 1357,446.5 1360.1,447.2 1363.2,447.9 1366.2,448.6 1369.1,449.3 1372,449.9 1374.8,450.5 1378.3,451.2 1381.7,452 1385.2,452.7 1388.6,453.4 1391.9,454.1 1395.2,454.8 1398.5,455.4 1401.7,456 1404.7,456.6 1407.7,457.1 1410.6,457.6 1413.4,458 1416.1,458.4 1418.6,458.7 1421,459 1425.2,459.4 1428.2,459.6 1430.7,459.5 1432.9,459.3 1435.6,458.9 1439.1,458.2 1444,457.4 1446.2,457 1448.7,456.6 1451.3,456.1 1454,455.6 1456.9,455 1459.9,454.4 1463,453.7 1466.2,453.1 1469.5,452.4 1472.8,451.7 1476.2,451 1479.5,450.3 1482.9,449.6 1486.2,448.9 1489.5,448.2 1492.7,447.6 1495.8,447 1498.9,446.4 1501.8,445.9 1505.2,445.3 1508.6,444.7 1512,444 1515.4,443.4 1518.8,442.8 1522.1,442.1 1525.5,441.5 1528.7,441 1532,440.4 1535.2,439.9 1538.3,439.5 1541.3,439.1 1544.3,438.8 1547.1,438.5 1549.9,438.3 1552.6,438.2 1556.3,438.2 1559.7,438.5 1562.9,439 1566,439.6 1568.9,440.3 1571.7,441.1 1574.5,441.8 1577.2,442.5 1580,443.2 1582.8,443.7 1585.7,444 1589,444.2 1592.4,444.2 1595.9,444.1 1599.3,444 1602.7,443.8 1606.1,443.6 1609.3,443.4 1612.4,443.2 1615.3,443.1 1618,443.1 1621.8,443.2 1625,443.3 1627.7,443.6 1630.4,443.8 1633.4,444.2 1637,444.7 1639.7,445.1 1642.5,445.5 1645.5,445.9 1648.5,446.4 1651.7,446.9 1655,447.4 1658.4,448 1662,448.7 1665.6,449.4 1668.4,450 1671.3,450.6 1674.2,451.3 1677.2,451.9 1680.3,452.7 1683.4,453.4 1686.6,454.2 1689.9,454.9 1693.2,455.7 1696.6,456.5 1700.1,457.2 1703.6,458 1706.5,458.6 1709.5,459.2 1712.7,459.8 1715.9,460.5 1719.1,461.1 1722.4,461.7 1725.7,462.4 1729.1,463 1732.4,463.7 1735.7,464.3 1738.9,464.9 1742.1,465.6 1745.3,466.2 1748.3,466.9 1751.2,467.5 1754.7,468.3 1758.1,469.1 1761.4,470 1764.6,470.9 1767.7,471.7 1770.8,472.6 1773.8,473.4 1776.9,474.2 1779.9,475 1783,475.7 1786.1,476.4 1789.2,477 1792.3,477.5 1795.3,478 1798.3,478.3 1801.2,478.6 1804.1,478.9 1807.1,479.2 1810.1,479.4 1813.2,479.7 1816.4,480 1819.9,480.3 1823.5,480.7 1827.3,481.2 1829.9,481.5 1832.6,481.9 1835.4,482.3 1838.4,482.6 1841.4,483 1844.6,483.5 1847.7,483.9 1850.9,484.3 1854.2,484.8 1857.4,485.2 1860.7,485.7 1863.9,486.1 1867.1,486.6 1870.2,487 1873.2,487.5 1876.2,488 1879,488.4 1881.7,488.9 1884.3,489.3 1888.2,490 1891.8,490.7 1895.4,491.5 1898.7,492.2 1902,492.9 1905.1,493.7 1908.1,494.4 1911,495.2 1913.9,495.9 1916.7,496.6 1919.5,497.2 1922.3,497.9 1926,498.7 1929.5,499.5 1933,500.3 1936.3,501.1 1939.5,501.8 1942.6,502.5 1945.5,503.2 1948.3,503.9 1950.9,504.6 1954.5,505.5 1957,506.1 1959.4,506.8 1962.7,507.9 1968,510 1970.2,510.9 1972.6,511.9 1975.1,513 1977.8,514.3 1980.7,515.6 1983.7,516.9 1986.8,518.3 1990,519.8 1993.3,521.3 1996.7,522.8 2000.1,524.3 2003.5,525.8 2006.9,527.2 2010.4,528.7 2013.8,530.1 2017.1,531.4 2019.9,532.5 2022.8,533.6 2025.7,534.6 2028.6,535.7 2031.6,536.7 2034.6,537.8 2037.6,538.8 2040.6,539.8 2043.7,540.9 2046.7,541.9 2049.8,542.9 2052.9,544 2056,545 2059,546.1 2062.1,547.1 2065.2,548.2 2068.2,549.2 2071.3,550.3 2074.3,551.4 2077.3,552.5 2080.5,553.6 2083.6,554.8 2086.8,556 2090.1,557.2 2093.3,558.4 2096.6,559.6 2099.8,560.8 2103,562 2106.2,563.2 2109.4,564.4 2112.5,565.6 2115.5,566.8 2118.4,567.9 2121.3,569 2124,570 2126.6,571 2129.1,572 2131.4,572.9 2135.8,574.6 2139.5,576.1 2142.7,577.3 2145.6,578.5 2148.3,579.5 2150.9,580.7 2153.6,581.9 2156.6,583.3 2160,585 2162.8,586.4 2165.6,588 2168.5,589.7 2171.5,591.5 2174.5,593.3 2177.6,595.2 2180.7,597.1 2183.9,598.9 2187.1,600.8 2190.4,602.5 2193.7,604.2 2197.1,605.7 2200,606.9 2203.1,608.1 2206.2,609.1 2209.3,610.2 2212.6,611.2 2215.8,612.1 2219,613.1 2222.3,614 2225.6,615 2228.8,615.9 2232,616.9 2235.1,618 2238.2,619.1 2241.2,620.3 2244.7,621.8 2248.2,623.4 2251.8,625.1 2255.3,626.9 2258.8,628.7 2262.3,630.5 2265.6,632.3 2268.8,634.1 2271.9,635.7 2274.8,637.3 2277.5,638.7 2280,640 2284.6,642.4 2287.7,644.1 2290.3,645.6 2293.2,646.9 2297.4,648.5 2299.9,649.4 2302.7,650.3 2305.7,651.2 2308.8,652.2 2312.1,653.2 2315.5,654.2 2318.9,655.1 2322.2,656 2325.5,656.8 2328.6,657.6 2331.6,658.2 2335.1,658.8 2338.5,659.4 2341.9,659.8 2345.2,660.1 2348.4,660.4 2351.5,660.6 2354.5,660.9 2357.3,661.1 2360,661.4 2363.2,661.8 2365.5,662 2367.4,662.2 2369.8,662.5 2373.1,663 2378,663.7 2380.2,664 2382.7,664.4 2385.3,664.9 2388.2,665.4 2391.2,665.9 2394.3,666.4 2397.5,667 2400.9,667.5 2404.3,668.1 2407.7,668.7 2411.2,669.3 2414.7,669.8 2418.1,670.4 2421.6,670.9 2424.9,671.4 2428.2,671.9 2431.3,672.3 2434.4,672.7 2437.5,673.1 2440.6,673.4 2443.8,673.7 2446.9,674 2450.1,674.3 2453.2,674.6 2456.4,674.9 2459.5,675.1 2462.5,675.4 2465.6,675.7 2468.5,675.9 2471.5,676.2 2474.4,676.5 2477.2,676.8 2479.9,677.1 2482.6,677.4 2486.2,677.9 2489.7,678.4 2493,678.9 2496.2,679.4 2499.3,680 2502.3,680.5 2505.3,681 2508.3,681.6 2511.3,682.1 2514.3,682.7 2517.4,683.2 2520.6,683.7 2523.6,684.2 2526.6,684.6 2529.6,685.1 2532.7,685.5 2535.8,686 2538.8,686.4 2541.9,686.9 2545,687.3 2548,687.7 2551.1,688.2 2554.1,688.6 2557.1,689.1 2560,689.5 2563.1,689.9 2565.9,690.3 2568.6,690.7 2571.3,691 2573.9,691.4 2576.5,691.7 2579.3,692.1 2582.2,692.5 2585.4,693 2588.8,693.6 2592.6,694.3 2596.8,695.1 2599.2,695.6 2601.9,696.1 2604.8,696.7 2607.8,697.4 2611,698.1 2614.3,698.8 2617.8,699.6 2621.3,700.3 2624.8,701.1 2628.4,701.9 2632,702.7 2635.6,703.6 2639.1,704.4 2642.6,705.1 2645.9,705.9 2649.1,706.6 2652.2,707.3 2655.1,708 2657.8,708.6 2660.3,709.2 2662.6,709.7 2664.5,710.1 2666.2,710.5" fill="none" stroke="#ff9a3c" stroke-width="2" stroke-linejoin="round" stroke-linecap="round"/>
<rect x="25" y="360.3" width="2" height="21.8" fill="#000"/>
<rect x="25" y="420.7" width="2" height="15.7" fill="#000"/>
<rect x="21" y="382.1" width="10" height="38.6" fill="rgba(205,207,217,0.6)" stroke="#000" stroke-width="2"/>
<rect x="41" y="340.3" width="2" height="12.9" fill="#000"/>
<rect x="41" y="379.6" width="2" height="9.1" fill="#000"/>
<rect x="37" y="353.2" width="10" height="26.4" fill="rgba(205,207,217,0.6)" stroke="#000" stroke-width="2"/>
<rect x="58" y="319.4" width="2" height="26.6" fill="#000"/>
<rect x="58" y="352.6" width="2" height="7.1" fill="#000"/>
<rect x="54" y="346" width="10" height="6.6" fill="rgba(205,207,217,0.6)" stroke="#000" stroke-width="2"/>
<rect x="75" y="327.4" width="2" height="55.2" fill="#000"/>
<rect x="70" y="345" width="12" height="27" fill="#000"/>
<rect x="91" y="342.2" width="2" height="23.7" fill="#000"/>
<rect x="91" y="370.7" width="2" height="20.8" fill="#000"/>
<rect x="87" y="365.9" width="10" height="4.8" fill="rgba(205,207,217,0.6)" stroke="#000" stroke-width="2"/>
<rect x="108" y="331.2" width="2" height="52.3" fill="#000"/>
<rect x="103" y="363.6" width="12" height="15.7" fill="#000"/>
<rect x="124" y="346.4" width="2" height="5.7" fill="#000"/>
<rect x="124" y="377.9" width="2" height="28.8" fill="#000"/>
<rect x="120" y="352.1" width="10" height="25.8" fill="rgba(205,207,217,0.6)" stroke="#000" stroke-width="2"/>
<rect x="141" y="274.2" width="2" height="25.7" fill="#000"/>
<rect x="141" y="350.7" width="2" height="17" fill="#000"/>
<rect x="137" y="299.9" width="10" height="50.8" fill="rgba(205,207,217,0.6)" stroke="#000" stroke-width="2"/>
<rect x="158" y="265.2" width="2" height="52.7" fill="#000"/>
<rect x="153" y="298.9" width="12" height="5.8" fill="#000"/>
<rect x="174" y="270.3" width="2" height="70.4" fill="#000"/>
<rect x="169" y="303.1" width="12" height="8.6" fill="#000"/>
<rect x="191" y="289.4" width="2" height="9.6" fill="#000"/>
<rect x="191" y="309.8" width="2" height="12.9" fill="#000"/>
<rect x="187" y="299" width="10" height="10.8" fill="rgba(205,207,217,0.6)" stroke="#000" stroke-width="2"/>
<rect x="207" y="246.2" width="2" height="33.6" fill="#000"/>
<rect x="207" y="297.8" width="2" height="8.7" fill="#000"/>
<rect x="203" y="279.8" width="10" height="18" fill="rgba(205,207,217,0.6)" stroke="#000" stroke-width="2"/>
<rect x="224" y="247.1" width="2" height="24.1" fill="#000"/>
<rect x="224" y="278.4" width="2" height="8.1" fill="#000"/>
<rect x="220" y="271.2" width="10" height="7.2" fill="rgba(205,207,217,0.6)" stroke="#000" stroke-width="2"/>
<rect x="241" y="251.3" width="2" height="6.8" fill="#000"/>
<rect x="241" y="269.8" width="2" height="33.8" fill="#000"/>
<rect x="237" y="258.1" width="10" height="11.7" fill="rgba(205,207,217,0.6)" stroke="#000" stroke-width="2"/>
<rect x="257" y="241.2" width="2" height="58.6" fill="#000"/>
<rect x="252" y="256.5" width="12" height="31.5" fill="#000"/>
<rect x="274" y="269" width="2" height="67.9" fill="#000"/>
<rect x="269" y="287" width="12" height="26.1" fill="#000"/>
<rect x="290" y="266.5" width="2" height="3.4" fill="#000"/>
<rect x="290" y="311.7" width="2" height="25.8" fill="#000"/>
<rect x="286" y="269.9" width="10" height="41.8" fill="rgba(205,207,217,0.6)" stroke="#000" stroke-width="2"/>
<rect x="307" y="245.2" width="2" height="18" fill="#000"/>
<rect x="307" y="268.5" width="2" height="6" fill="#000"/>
<rect x="303" y="263.2" width="10" height="5.3" fill="rgba(205,207,217,0.6)" stroke="#000" stroke-width="2"/>
<rect x="324" y="213.3" width="2" height="10" fill="#000"/>
<rect x="324" y="261.9" width="2" height="4.6" fill="#000"/>
<rect x="320" y="223.3" width="10" height="38.6" fill="rgba(205,207,217,0.6)" stroke="#000" stroke-width="2"/>
<rect x="340" y="196.2" width="2" height="46.2" fill="#000"/>
<rect x="335" y="221.8" width="12" height="2" fill="#000"/>
<rect x="357" y="207.2" width="2" height="57.4" fill="#000"/>
<rect x="352" y="223.8" width="12" height="30.3" fill="#000"/>
<rect x="373" y="227.2" width="2" height="81.6" fill="#000"/>
<rect x="368" y="251.8" width="12" height="44.2" fill="#000"/>
<rect x="390" y="250" width="2" height="96.8" fill="#000"/>
<rect x="385" y="294.6" width="12" height="50.4" fill="#000"/>
<rect x="407" y="325.1" width="2" height="52.7" fill="#000"/>
<rect x="402" y="344.6" width="12" height="27.4" fill="#000"/>
<rect x="423" y="354.1" width="2" height="49.4" fill="#000"/>
<rect x="418" y="371" width="12" height="10.8" fill="#000"/>
<rect x="440" y="325.2" width="2" height="25.1" fill="#000"/>
<rect x="440" y="380.8" width="2" height="5.9" fill="#000"/>
<rect x="436" y="350.3" width="10" height="30.5" fill="rgba(205,207,217,0.6)" stroke="#000" stroke-width="2"/>
<rect x="456" y="309.1" width="2" height="13.4" fill="#000"/>
<rect x="456" y="349.3" width="2" height="5.9" fill="#000"/>
<rect x="452" y="322.5" width="10" height="26.8" fill="rgba(205,207,217,0.6)" stroke="#000" stroke-width="2"/>
<rect x="473" y="316.1" width="2" height="46.7" fill="#000"/>
<rect x="468" y="321" width="12" height="20.6" fill="#000"/>
<rect x="490" y="319.3" width="2" height="10.8" fill="#000"/>
<rect x="490" y="340.6" width="2" height="39.2" fill="#000"/>
<rect x="486" y="330.1" width="10" height="10.5" fill="rgba(205,207,217,0.6)" stroke="#000" stroke-width="2"/>
<rect x="506" y="262.2" width="2" height="34.2" fill="#000"/>
<rect x="506" y="327.5" width="2" height="9.2" fill="#000"/>
<rect x="502" y="296.4" width="10" height="31.1" fill="rgba(205,207,217,0.6)" stroke="#000" stroke-width="2"/>
<rect x="523" y="290.4" width="2" height="26.1" fill="#000"/>
<rect x="518" y="294.9" width="12" height="10.8" fill="#000"/>
<rect x="539" y="242.2" width="2" height="25.9" fill="#000"/>
<rect x="535" y="268.1" width="10" height="36.2" fill="rgba(205,207,217,0.6)" stroke="#000" stroke-width="2"/>
<rect x="556" y="254.1" width="2" height="33.3" fill="#000"/>
<rect x="551" y="265.7" width="12" height="2" fill="#000"/>
<rect x="573" y="254.8" width="2" height="61.7" fill="#000"/>
<rect x="568" y="267.1" width="12" height="44.7" fill="#000"/>
<rect x="589" y="278.5" width="2" height="24.6" fill="#000"/>
<rect x="589" y="310.6" width="2" height="15.9" fill="#000"/>
<rect x="585" y="303.1" width="10" height="7.5" fill="rgba(205,207,217,0.6)" stroke="#000" stroke-width="2"/>
<rect x="606" y="289.6" width="2" height="45" fill="#000"/>
<rect x="601" y="301.9" width="12" height="17.3" fill="#000"/>
<rect x="623" y="305.2" width="2" height="124.4" fill="#000"/>
<rect x="618" y="317.8" width="12" height="62.3" fill="#000"/>
<rect x="639" y="346.5" width="2" height="55" fill="#000"/>
<rect x="634" y="378.6" width="12" height="11.5" fill="#000"/>
<rect x="656" y="377.4" width="2" height="18" fill="#000"/>
<rect x="651" y="387.9" width="12" height="2" fill="#000"/>
<rect x="672" y="354.1" width="2" height="21.2" fill="#000"/>
<rect x="672" y="391.7" width="2" height="3.7" fill="#000"/>
<rect x="668" y="375.3" width="10" height="16.4" fill="rgba(205,207,217,0.6)" stroke="#000" stroke-width="2"/>
<rect x="689" y="373" width="2" height="53.5" fill="#000"/>
<rect x="684" y="373.8" width="12" height="39.1" fill="#000"/>
<rect x="706" y="393.3" width="2" height="51" fill="#000"/>
<rect x="701" y="410.8" width="12" height="33.4" fill="#000"/>
<rect x="722" y="404.1" width="2" height="22.9" fill="#000"/>
<rect x="718" y="427" width="10" height="14.7" fill="rgba(205,207,217,0.6)" stroke="#000" stroke-width="2"/>
<rect x="739" y="423.7" width="2" height="35.9" fill="#000"/>
<rect x="734" y="425.8" width="12" height="27.1" fill="#000"/>
<rect x="755" y="368.3" width="2" height="12" fill="#000"/>
<rect x="755" y="451.5" width="2" height="22.2" fill="#000"/>
<rect x="751" y="380.3" width="10" height="71.2" fill="rgba(205,207,217,0.6)" stroke="#000" stroke-width="2"/>
<rect x="772" y="375.2" width="2" height="51.3" fill="#000"/>
<rect x="767" y="379.1" width="12" height="33.8" fill="#000"/>
<rect x="789" y="408" width="2" height="44.6" fill="#000"/>
<rect x="784" y="411.9" width="12" height="25.3" fill="#000"/>
<rect x="805" y="427.4" width="2" height="65.9" fill="#000"/>
<rect x="800" y="434.7" width="12" height="52.1" fill="#000"/>
<rect x="822" y="460.1" width="2" height="8.7" fill="#000"/>
<rect x="822" y="485.8" width="2" height="1.4" fill="#000"/>
<rect x="818" y="468.8" width="10" height="17" fill="rgba(205,207,217,0.6)" stroke="#000" stroke-width="2"/>
<rect x="838" y="432.9" width="2" height="39.6" fill="#000"/>
<rect x="833" y="466.7" width="12" height="2" fill="#000"/>
<rect x="855" y="449.2" width="2" height="34.4" fill="#000"/>
<rect x="850" y="466.7" width="12" height="2" fill="#000"/>
<rect x="872" y="467.2" width="2" height="66.4" fill="#000"/>
<rect x="867" y="468.6" width="12" height="55.6" fill="#000"/>
<rect x="888" y="495.1" width="2" height="13.7" fill="#000"/>
<rect x="888" y="522.9" width="2" height="4.9" fill="#000"/>
<rect x="884" y="508.8" width="10" height="14.1" fill="rgba(205,207,217,0.6)" stroke="#000" stroke-width="2"/>
<rect x="905" y="485" width="2" height="17.7" fill="#000"/>
<rect x="905" y="507.8" width="2" height="5" fill="#000"/>
<rect x="901" y="502.7" width="10" height="5.1" fill="rgba(205,207,217,0.6)" stroke="#000" stroke-width="2"/>
<rect x="921" y="476.2" width="2" height="67.5" fill="#000"/>
<rect x="916" y="501.7" width="12" height="26.2" fill="#000"/>
<rect x="938" y="506.2" width="2" height="8.8" fill="#000"/>
<rect x="938" y="526.9" width="2" height="9.7" fill="#000"/>
<rect x="934" y="515" width="10" height="11.9" fill="rgba(205,207,217,0.6)" stroke="#000" stroke-width="2"/>
<rect x="955" y="484.2" width="2" height="10.9" fill="#000"/>
<rect x="955" y="513.7" width="2" height="4" fill="#000"/>
<rect x="951" y="495.1" width="10" height="18.6" fill="rgba(205,207,217,0.6)" stroke="#000" stroke-width="2"/>
<rect x="971" y="489.4" width="2" height="41.9" fill="#000"/>
<rect x="966" y="493.7" width="12" height="31.4" fill="#000"/>
<rect x="988" y="479.2" width="2" height="23.5" fill="#000"/>
<rect x="984" y="502.7" width="10" height="21" fill="rgba(205,207,217,0.6)" stroke="#000" stroke-width="2"/>
<rect x="1004" y="487.2" width="2" height="24.3" fill="#000"/>
<rect x="999" y="502.9" width="12" height="5.1" fill="#000"/>
<rect x="1021" y="440.4" width="2" height="6.6" fill="#000"/>
<rect x="1017" y="447" width="10" height="59.6" fill="rgba(205,207,217,0.6)" stroke="#000" stroke-width="2"/>
<rect x="1038" y="406.3" width="2" height="29.8" fill="#000"/>
<rect x="1038" y="445.7" width="2" height="15" fill="#000"/>
<rect x="1034" y="436.1" width="10" height="9.6" fill="rgba(205,207,217,0.6)" stroke="#000" stroke-width="2"/>
<rect x="1054" y="395.3" width="2" height="17.8" fill="#000"/>
<rect x="1054" y="434.9" width="2" height="10.8" fill="#000"/>
<rect x="1050" y="413.1" width="10" height="21.8" fill="rgba(205,207,217,0.6)" stroke="#000" stroke-width="2"/>
<rect x="1071" y="385.3" width="2" height="14.9" fill="#000"/>
<rect x="1071" y="410.7" width="2" height="9.9" fill="#000"/>
<rect x="1067" y="400.2" width="10" height="10.5" fill="rgba(205,207,217,0.6)" stroke="#000" stroke-width="2"/>
<rect x="1087" y="380.3" width="2" height="10.6" fill="#000"/>
<rect x="1087" y="399.8" width="2" height="15.8" fill="#000"/>
<rect x="1083" y="390.9" width="10" height="8.9" fill="rgba(205,207,217,0.6)" stroke="#000" stroke-width="2"/>
<rect x="1104" y="381.2" width="2" height="33.2" fill="#000"/>
<rect x="1099" y="389" width="12" height="2" fill="#000"/>
<rect x="1121" y="379.1" width="2" height="32.5" fill="#000"/>
<rect x="1116" y="389" width="12" height="2" fill="#000"/>
<rect x="1137" y="389.1" width="2" height="41.5" fill="#000"/>
<rect x="1132" y="388.6" width="12" height="37.6" fill="#000"/>
<rect x="1154" y="415.3" width="2" height="45.4" fill="#000"/>
<rect x="1149" y="424.8" width="12" height="20.1" fill="#000"/>
<rect x="1170" y="435.6" width="2" height="30" fill="#000"/>
<rect x="1165" y="440.8" width="12" height="2" fill="#000"/>
<rect x="1187" y="386.1" width="2" height="5.8" fill="#000"/>
<rect x="1187" y="440.7" width="2" height="15.5" fill="#000"/>
<rect x="1183" y="391.9" width="10" height="48.8" fill="rgba(205,207,217,0.6)" stroke="#000" stroke-width="2"/>
<rect x="1204" y="386.3" width="2" height="24.2" fill="#000"/>
<rect x="1199" y="390.6" width="12" height="13.5" fill="#000"/>
<rect x="1220" y="398.5" width="2" height="67.7" fill="#000"/>
<rect x="1215" y="403.1" width="12" height="59" fill="#000"/>
<rect x="1237" y="456.3" width="2" height="28.1" fill="#000"/>
<rect x="1232" y="458.8" width="12" height="4.2" fill="#000"/>
<rect x="1253" y="458.6" width="2" height="38.1" fill="#000"/>
<rect x="1248" y="458.8" width="12" height="33.3" fill="#000"/>
<rect x="1270" y="485.1" width="2" height="73.2" fill="#000"/>
<rect x="1265" y="490.9" width="12" height="31" fill="#000"/>
<rect x="1287" y="519.3" width="2" height="34.4" fill="#000"/>
<rect x="1282" y="520.9" width="12" height="22.9" fill="#000"/>
<rect x="1303" y="519.3" width="2" height="14.8" fill="#000"/>
<rect x="1303" y="542.8" width="2" height="15.5" fill="#000"/>
<rect x="1299" y="534.1" width="10" height="8.7" fill="rgba(205,207,217,0.6)" stroke="#000" stroke-width="2"/>
<rect x="1320" y="531.3" width="2" height="60.1" fill="#000"/>
<rect x="1315" y="531.5" width="12" height="54.6" fill="#000"/>
<rect x="1336" y="583.5" width="2" height="2.5" fill="#000"/>
<rect x="1332" y="550.3" width="10" height="33.2" fill="rgba(205,207,217,0.6)" stroke="#000" stroke-width="2"/>
<rect x="1353" y="547.5" width="2" height="30.7" fill="#000"/>
<rect x="1348" y="549.8" width="12" height="28.9" fill="#000"/>
<rect x="1370" y="553.7" width="2" height="4.2" fill="#000"/>
<rect x="1370" y="576.3" width="2" height="10" fill="#000"/>
<rect x="1366" y="557.9" width="10" height="18.4" fill="rgba(205,207,217,0.6)" stroke="#000" stroke-width="2"/>
<rect x="1386" y="527.4" width="2" height="46.2" fill="#000"/>
<rect x="1381" y="556.4" width="12" height="2" fill="#000"/>
<rect x="1403" y="554.4" width="2" height="48.5" fill="#000"/>
<rect x="1398" y="559" width="12" height="12.8" fill="#000"/>
<rect x="1420" y="494.4" width="2" height="16.6" fill="#000"/>
<rect x="1420" y="570.1" width="2" height="16.2" fill="#000"/>
<rect x="1416" y="511" width="10" height="59.1" fill="rgba(205,207,217,0.6)" stroke="#000" stroke-width="2"/>
<rect x="1436" y="444.7" width="2" height="1.2" fill="#000"/>
<rect x="1436" y="509.5" width="2" height="4" fill="#000"/>
<rect x="1432" y="445.9" width="10" height="63.6" fill="rgba(205,207,217,0.6)" stroke="#000" stroke-width="2"/>
<rect x="1453" y="391.1" width="2" height="19.9" fill="#000"/>
<rect x="1453" y="445.4" width="2" height="17.8" fill="#000"/>
<rect x="1449" y="411" width="10" height="34.4" fill="rgba(205,207,217,0.6)" stroke="#000" stroke-width="2"/>
<rect x="1469" y="389.3" width="2" height="2.8" fill="#000"/>
<rect x="1469" y="409.6" width="2" height="13.9" fill="#000"/>
<rect x="1465" y="392.1" width="10" height="17.5" fill="rgba(205,207,217,0.6)" stroke="#000" stroke-width="2"/>
<rect x="1486" y="338" width="2" height="22.2" fill="#000"/>
<rect x="1486" y="389.2" width="2" height="24.3" fill="#000"/>
<rect x="1482" y="360.2" width="10" height="29" fill="rgba(205,207,217,0.6)" stroke="#000" stroke-width="2"/>
<rect x="1503" y="335.7" width="2" height="20.2" fill="#000"/>
<rect x="1503" y="359.2" width="2" height="8.1" fill="#000"/>
<rect x="1499" y="355.9" width="10" height="3.2" fill="rgba(205,207,217,0.6)" stroke="#000" stroke-width="2"/>
<rect x="1519" y="352.3" width="2" height="54.3" fill="#000"/>
<rect x="1514" y="354.6" width="12" height="48.3" fill="#000"/>
<rect x="1536" y="347.3" width="2" height="18.9" fill="#000"/>
<rect x="1536" y="401.5" width="2" height="7.9" fill="#000"/>
<rect x="1532" y="366.2" width="10" height="35.3" fill="rgba(205,207,217,0.6)" stroke="#000" stroke-width="2"/>
<rect x="1552" y="359.3" width="2" height="63" fill="#000"/>
<rect x="1547" y="364.5" width="12" height="27.6" fill="#000"/>
<rect x="1569" y="372.7" width="2" height="272.9" fill="#000"/>
<rect x="1564" y="389.9" width="12" height="125.1" fill="#000"/>
<rect x="1586" y="482.8" width="2" height="72.8" fill="#000"/>
<rect x="1581" y="514.7" width="12" height="25.2" fill="#000"/>
<rect x="1602" y="408.1" width="2" height="22.8" fill="#000"/>
<rect x="1602" y="537.7" width="2" height="12.9" fill="#000"/>
<rect x="1598" y="430.9" width="10" height="106.8" fill="rgba(205,207,217,0.6)" stroke="#000" stroke-width="2"/>
<rect x="1619" y="417.1" width="2" height="71.7" fill="#000"/>
<rect x="1614" y="428.1" width="12" height="2" fill="#000"/>
<rect x="1635" y="427.2" width="2" height="80.6" fill="#000"/>
<rect x="1630" y="428.6" width="12" height="48.5" fill="#000"/>
<rect x="1652" y="452.3" width="2" height="70.4" fill="#000"/>
<rect x="1647" y="475.5" width="12" height="30.5" fill="#000"/>
<rect x="1669" y="483.3" width="2" height="62.2" fill="#000"/>
<rect x="1664" y="504.7" width="12" height="32.7" fill="#000"/>
<rect x="1685" y="526.5" width="2" height="66.5" fill="#000"/>
<rect x="1680" y="537.7" width="12" height="29.2" fill="#000"/>
<rect x="1702" y="558.2" width="2" height="33.3" fill="#000"/>
<rect x="1697" y="566.8" width="12" height="12.1" fill="#000"/>
<rect x="1718" y="532.2" width="2" height="19.9" fill="#000"/>
<rect x="1718" y="577.9" width="2" height="18.9" fill="#000"/>
<rect x="1714" y="552.1" width="10" height="25.8" fill="rgba(205,207,217,0.6)" stroke="#000" stroke-width="2"/>
<rect x="1735" y="514.1" width="2" height="32.8" fill="#000"/>
<rect x="1735" y="550.7" width="2" height="18" fill="#000"/>
<rect x="1731" y="546.9" width="10" height="3.8" fill="rgba(205,207,217,0.6)" stroke="#000" stroke-width="2"/>
<rect x="1752" y="500.2" width="2" height="75.3" fill="#000"/>
<rect x="1747" y="545.5" width="12" height="20.4" fill="#000"/>
<rect x="1768" y="559.2" width="2" height="57.6" fill="#000"/>
<rect x="1763" y="563.6" width="12" height="45.1" fill="#000"/>
<rect x="1785" y="559.2" width="2" height="11.5" fill="#000"/>
<rect x="1785" y="608.7" width="2" height="3.7" fill="#000"/>
<rect x="1781" y="570.7" width="10" height="38" fill="rgba(205,207,217,0.6)" stroke="#000" stroke-width="2"/>
<rect x="1801" y="530.3" width="2" height="11.5" fill="#000"/>
<rect x="1801" y="568.8" width="2" height="2.9" fill="#000"/>
<rect x="1797" y="541.8" width="10" height="27" fill="rgba(205,207,217,0.6)" stroke="#000" stroke-width="2"/>
<rect x="1818" y="532.2" width="2" height="27.5" fill="#000"/>
<rect x="1813" y="539.2" width="12" height="2" fill="#000"/>
<rect x="1835" y="489.9" width="2" height="19" fill="#000"/>
<rect x="1835" y="538.3" width="2" height="24.3" fill="#000"/>
<rect x="1831" y="508.9" width="10" height="29.4" fill="rgba(205,207,217,0.6)" stroke="#000" stroke-width="2"/>
<rect x="1851" y="482.3" width="2" height="59.4" fill="#000"/>
<rect x="1846" y="506.6" width="12" height="31.4" fill="#000"/>
<rect x="1868" y="514.1" width="2" height="52.7" fill="#000"/>
<rect x="1863" y="536.4" width="12" height="16.8" fill="#000"/>
<rect x="1884" y="525.1" width="2" height="45.5" fill="#000"/>
<rect x="1879" y="548.9" width="12" height="2" fill="#000"/>
<rect x="1901" y="537.3" width="2" height="88.6" fill="#000"/>
<rect x="1896" y="549.7" width="12" height="60.6" fill="#000"/>
<rect x="1918" y="596.8" width="2" height="47.2" fill="#000"/>
<rect x="1913" y="608.7" width="12" height="24.4" fill="#000"/>
<rect x="1934" y="595.5" width="2" height="9.4" fill="#000"/>
<rect x="1934" y="630.6" width="2" height="13.4" fill="#000"/>
<rect x="1930" y="604.9" width="10" height="25.7" fill="rgba(205,207,217,0.6)" stroke="#000" stroke-width="2"/>
<rect x="1951" y="591.1" width="2" height="45.7" fill="#000"/>
<rect x="1946" y="601.7" width="12" height="17.1" fill="#000"/>
<rect x="1967" y="617.2" width="2" height="100.5" fill="#000"/>
<rect x="1962" y="617.4" width="12" height="81.7" fill="#000"/>
<rect x="1984" y="687.1" width="2" height="120.5" fill="#000"/>
<rect x="1979" y="697.6" width="12" height="57.2" fill="#000"/>
<rect x="2001" y="694.2" width="2" height="26.9" fill="#000"/>
<rect x="2001" y="753.6" width="2" height="35" fill="#000"/>
<rect x="1997" y="721.1" width="10" height="32.5" fill="rgba(205,207,217,0.6)" stroke="#000" stroke-width="2"/>
<rect x="2017" y="717.4" width="2" height="58.2" fill="#000"/>
<rect x="2012" y="719.6" width="12" height="39.4" fill="#000"/>
<rect x="2034" y="678.3" width="2" height="25.7" fill="#000"/>
<rect x="2034" y="756.3" width="2" height="26.1" fill="#000"/>
<rect x="2030" y="704" width="10" height="52.3" fill="rgba(205,207,217,0.6)" stroke="#000" stroke-width="2"/>
<rect x="2050" y="697.4" width="2" height="59.1" fill="#000"/>
<rect x="2045" y="701.7" width="12" height="36.5" fill="#000"/>
<rect x="2067" y="688.3" width="2" height="20.6" fill="#000"/>
<rect x="2067" y="736.7" width="2" height="23" fill="#000"/>
<rect x="2063" y="708.9" width="10" height="27.8" fill="rgba(205,207,217,0.6)" stroke="#000" stroke-width="2"/>
<rect x="2084" y="683.9" width="2" height="19.3" fill="#000"/>
<rect x="2084" y="707.4" width="2" height="7.1" fill="#000"/>
<rect x="2080" y="703.2" width="10" height="4.2" fill="rgba(205,207,217,0.6)" stroke="#000" stroke-width="2"/>
<rect x="2100" y="683.2" width="2" height="64.8" fill="#000"/>
<rect x="2095" y="701.7" width="12" height="39.4" fill="#000"/>
<rect x="2117" y="694.9" width="2" height="70.9" fill="#000"/>
<rect x="2112" y="738.9" width="12" height="13.2" fill="#000"/>
<rect x="2134" y="734" width="2" height="62.9" fill="#000"/>
<rect x="2129" y="750.6" width="12" height="23.5" fill="#000"/>
<rect x="2150" y="772.7" width="2" height="86.8" fill="#000"/>
<rect x="2145" y="773.4" width="12" height="79.7" fill="#000"/>
<rect x="2167" y="825.7" width="2" height="28.9" fill="#000"/>
<rect x="2162" y="850.4" width="12" height="2" fill="#000"/>
<rect x="2183" y="831.8" width="2" height="63.1" fill="#000"/>
<rect x="2178" y="851.4" width="12" height="22.5" fill="#000"/>
<rect x="2200" y="850.9" width="2" height="61.6" fill="#000"/>
<rect x="2195" y="872.4" width="12" height="27.7" fill="#000"/>
<rect x="2217" y="814.2" width="2" height="15" fill="#000"/>
<rect x="2217" y="898.6" width="2" height="11" fill="#000"/>
<rect x="2213" y="829.2" width="10" height="69.4" fill="rgba(205,207,217,0.6)" stroke="#000" stroke-width="2"/>
<rect x="2233" y="796.4" width="2" height="1.2" fill="#000"/>
<rect x="2233" y="828.9" width="2" height="58.7" fill="#000"/>
<rect x="2229" y="797.6" width="10" height="31.3" fill="rgba(205,207,217,0.6)" stroke="#000" stroke-width="2"/>
<rect x="2250" y="789.8" width="2" height="79.9" fill="#000"/>
<rect x="2245" y="796.6" width="12" height="68.3" fill="#000"/>
<rect x="2266" y="854.3" width="2" height="68.5" fill="#000"/>
<rect x="2261" y="863.6" width="12" height="34.7" fill="#000"/>
<rect x="2283" y="890" width="2" height="36" fill="#000"/>
<rect x="2278" y="898.1" width="12" height="2" fill="#000"/>
<rect x="2300" y="842.3" width="2" height="18.9" fill="#000"/>
<rect x="2300" y="899.3" width="2" height="9.6" fill="#000"/>
<rect x="2296" y="861.2" width="10" height="38.1" fill="rgba(205,207,217,0.6)" stroke="#000" stroke-width="2"/>
<rect x="2316" y="798.3" width="2" height="2.7" fill="#000"/>
<rect x="2316" y="860.7" width="2" height="12" fill="#000"/>
<rect x="2312" y="801" width="10" height="59.7" fill="rgba(205,207,217,0.6)" stroke="#000" stroke-width="2"/>
<rect x="2333" y="760.2" width="2" height="13" fill="#000"/>
<rect x="2333" y="800" width="2" height="34.8" fill="#000"/>
<rect x="2329" y="773.2" width="10" height="26.8" fill="rgba(205,207,217,0.6)" stroke="#000" stroke-width="2"/>
<rect x="2349" y="698.1" width="2" height="9.1" fill="#000"/>
<rect x="2345" y="707.2" width="10" height="65" fill="rgba(205,207,217,0.6)" stroke="#000" stroke-width="2"/>
<rect x="2366" y="685.2" width="2" height="30.5" fill="#000"/>
<rect x="2361" y="705.1" width="12" height="8" fill="#000"/>
<rect x="2383" y="686.2" width="2" height="41.3" fill="#000"/>
<rect x="2378" y="710.8" width="12" height="11.5" fill="#000"/>
<rect x="2399" y="716.4" width="2" height="27.2" fill="#000"/>
<rect x="2394" y="720.9" width="12" height="19.4" fill="#000"/>
<rect x="2416" y="698" width="2" height="36.6" fill="#000"/>
<rect x="2416" y="737.8" width="2" height="3" fill="#000"/>
<rect x="2412" y="734.6" width="10" height="3.2" fill="rgba(205,207,217,0.6)" stroke="#000" stroke-width="2"/>
<rect x="2432" y="732.2" width="2" height="65.6" fill="#000"/>
<rect x="2427" y="733.6" width="12" height="41.5" fill="#000"/>
<rect x="2449" y="690.4" width="2" height="26.7" fill="#000"/>
<rect x="2449" y="773.6" width="2" height="4.8" fill="#000"/>
<rect x="2445" y="717.1" width="10" height="56.5" fill="rgba(205,207,217,0.6)" stroke="#000" stroke-width="2"/>
<rect x="2466" y="693.2" width="2" height="9.7" fill="#000"/>
<rect x="2466" y="715.9" width="2" height="7.8" fill="#000"/>
<rect x="2462" y="702.9" width="10" height="13" fill="rgba(205,207,217,0.6)" stroke="#000" stroke-width="2"/>
<rect x="2482" y="692.3" width="2" height="42.4" fill="#000"/>
<rect x="2477" y="701.9" width="12" height="30.2" fill="#000"/>
<rect x="2499" y="706.2" width="2" height="47.5" fill="#000"/>
<rect x="2494" y="729.8" width="12" height="18.5" fill="#000"/>
<rect x="2515" y="746.5" width="2" height="20.3" fill="#000"/>
<rect x="2510" y="747.5" width="12" height="13.8" fill="#000"/>
<rect x="2532" y="726.1" width="2" height="27" fill="#000"/>
<rect x="2532" y="759.9" width="2" height="22.7" fill="#000"/>
<rect x="2528" y="753.1" width="10" height="6.8" fill="rgba(205,207,217,0.6)" stroke="#000" stroke-width="2"/>
<rect x="2549" y="711.3" width="2" height="36.6" fill="#000"/>
<rect x="2549" y="751.7" width="2" height="1.4" fill="#000"/>
<rect x="2545" y="747.9" width="10" height="3.8" fill="rgba(205,207,217,0.6)" stroke="#000" stroke-width="2"/>
<rect x="2565" y="708.1" width="2" height="57.8" fill="#000"/>
<rect x="2560" y="745.5" width="12" height="2" fill="#000"/>
<rect x="2582" y="714.2" width="2" height="49.4" fill="#000"/>
<rect x="2577" y="746.6" width="12" height="16.6" fill="#000"/>
<rect x="2598" y="755.4" width="2" height="44.3" fill="#000"/>
<rect x="2593" y="761.8" width="12" height="5.2" fill="#000"/>
<rect x="2615" y="759.2" width="2" height="44.3" fill="#000"/>
<rect x="2610" y="765.6" width="12" height="33.7" fill="#000"/>
<rect x="2632" y="779.4" width="2" height="12.7" fill="#000"/>
<rect x="2632" y="797.7" width="2" height="2.6" fill="#000"/>
<rect x="2628" y="792.1" width="10" height="5.6" fill="rgba(205,207,217,0.6)" stroke="#000" stroke-width="2"/>
<rect x="2648" y="789.3" width="2" height="42.2" fill="#000"/>
<rect x="2643" y="790.7" width="12" height="35.2" fill="#000"/>
<rect x="2665" y="819.3" width="2" height="8.4" fill="#000"/>
<rect x="2660" y="822.9" width="12" height="2" fill="#000"/>
</g>
<g clip-path="url(#cr)">
<line x1="20" y1="1299" x2="3086" y2="1299" stroke="#787b86" stroke-width="2" stroke-dasharray="10 12"/>
<line x1="20" y1="1390" x2="3086" y2="1390" stroke="rgba(120,123,134,0.6)" stroke-width="2" stroke-dasharray="10 12"/>
<line x1="20" y1="1481" x2="3086" y2="1481" stroke="#787b86" stroke-width="2" stroke-dasharray="10 12"/>
<polyline points="19.8,1383.6 21.5,1383 23.8,1382.2 26.4,1381.3 29.3,1380.3 32.5,1379.2 35.8,1378 39.3,1376.8 42.9,1375.7 46.4,1374.6 49.9,1373.5 53.2,1372.6 56.3,1371.8 59.6,1371.1 63,1370.5 66.4,1369.9 69.9,1369.4 73.3,1368.9 76.7,1368.5 80,1368.1 83.1,1367.7 86,1367.4 88.7,1367.1 91.2,1366.7 95.6,1366.2 99,1365.8 101.8,1365.4 104.3,1365.1 107.1,1364.5 109,1364.1 109.6,1363.8 112.4,1362.8 121.1,1360 122.9,1359.5 125,1358.8 127.3,1358.1 129.8,1357.4 132.5,1356.6 135.3,1355.7 138.3,1354.8 141.4,1353.9 144.6,1352.9 147.9,1351.9 151.3,1350.9 154.8,1349.8 158.3,1348.8 161.8,1347.7 165.4,1346.6 169,1345.5 172.5,1344.5 176,1343.4 179.5,1342.3 183,1341.3 186.3,1340.3 189.6,1339.3 192.7,1338.3 195.8,1337.4 198.7,1336.5 201.4,1335.6 204,1334.8 206.4,1334 208.5,1333.3 213.7,1331.7 218.1,1330.1 222,1328.7 225.4,1327.4 228.4,1326.2 231,1325.2 233.4,1324.2 235.6,1323.3 237.6,1322.6 239.6,1321.9 241.7,1321.3 246.4,1320.3 249.4,1320.2 251.9,1320.5 255.3,1320.8 258.2,1321 261.5,1321.4 264.9,1321.8 268.4,1322.2 271.7,1322.5 274.9,1322.8 278.4,1322.9 281.8,1323 285,1322.9 288.2,1322.9 291.5,1322.8 294.5,1322.8 297.3,1322.9 300.3,1322.9 303.7,1322.6 308.1,1322 310.5,1321.6 313.3,1321 316.4,1320.3 319.6,1319.5 323,1318.7 326.4,1317.9 329.7,1317.1 333,1316.3 336,1315.6 338.8,1315.1 341.3,1314.6 345.7,1314.1 349.1,1313.9 352.1,1313.9 354.9,1314.2 357.9,1314.6 361,1315.2 364,1316 367,1317 370.2,1318.1 373.7,1319.4 376.5,1320.5 379.3,1321.6 382.3,1322.9 385.4,1324.2 388.7,1325.7 392.2,1327.2 396,1329 398.8,1330.3 402,1331.9 405.4,1333.5 408.9,1335.3 412.4,1337 415.9,1338.8 419.3,1340.4 422.4,1342 425.3,1343.4 427.7,1344.5 432.1,1346.5 435,1347.6 437.4,1348.5 440.4,1349.6 443.3,1350.8 446.4,1352 449.7,1353.2 452.9,1354.6 456.3,1356 459.7,1357.5 463.1,1359.2 466.7,1360.9 470.2,1362.5 473.7,1363.9 477.2,1365.1 480.8,1366.1 484.3,1367 487.8,1367.7 491.2,1368.3 494.5,1368.7 497.7,1368.8 500.8,1368.9 503.9,1369 507.1,1369.3 510.2,1369.9 513.3,1370.7 516.4,1371.5 519.6,1372.4 522.9,1373.1 526,1373.6 529.2,1374 532.5,1374.4 535.8,1374.8 539,1375.2 542,1375.6 545.4,1376.2 548.6,1376.7 551.7,1377.3 554.7,1378 557.9,1378.8 561,1379.9 564.1,1381.2 567.2,1382.6 570.4,1384 573.7,1385.2 576.6,1386 579.6,1386.7 582.7,1387.3 585.8,1387.9 589.2,1388.5 592.8,1389 595.7,1389.3 598.8,1389.6 602.1,1389.8 605.5,1390.1 608.8,1390.3 612.1,1390.5 615.3,1390.7 618.2,1390.9 621.5,1391.1 624.4,1391.3 627.1,1391.5 629.9,1391.7 633.2,1391.9 637.2,1392.1 639.8,1392.3 642.6,1392.3 645.6,1392.4 648.8,1392.5 652,1392.5 655.4,1392.6 658.8,1392.7 662.2,1392.9 665.6,1393.1 668.9,1393.4 672.1,1393.7 675.4,1394.2 678.7,1394.8 682.2,1395.4 685.6,1396.1 689.1,1396.9 692.5,1397.7 695.8,1398.4 698.9,1399.2 701.9,1399.9 704.6,1400.5 707.1,1401 711.5,1401.9 714.8,1402.4 717.5,1402.9 720.1,1403.4 722.9,1404.2 726.1,1405.3 729.3,1406.7 732.5,1408.2 735.6,1409.5 738.8,1410.6 742,1411.2 745.2,1411.6 748.3,1411.9 751.5,1412.2 754.7,1412.8 757.8,1413.5 760.7,1414.4 763.7,1415.3 767,1416.4 770.6,1417.5 773.5,1418.5 776.9,1419.6 780.4,1420.8 784,1422 787.3,1423.1 790.3,1424.1 792.8,1424.8 796.6,1425.8 800,1426.4 802.5,1427.1 805.4,1428 808.6,1429 812,1430 815.6,1431 819,1431.8 822,1432.5 824.9,1433.1 827.8,1433.8 830.9,1434.4 834.1,1434.9 837.6,1435.5 841.3,1436 844,1436.3 846.8,1436.5 849.6,1436.8 852.5,1437 855.6,1437.2 858.7,1437.4 862,1437.6 865.5,1437.9 869.2,1438.2 873,1438.5 875.8,1438.7 878.7,1439 881.8,1439.4 885,1439.7 888.3,1440 891.7,1440.4 895.1,1440.8 898.5,1441.1 902,1441.5 905.3,1441.8 908.7,1442.1 911.9,1442.4 915,1442.6 917.9,1442.8 920.6,1442.9 924.5,1443 928.2,1443 931.7,1443 935.1,1442.8 938.3,1442.6 941.4,1442.4 944.3,1442.2 947.1,1442 949.8,1441.8 952.4,1441.7 956.1,1441.5 959.1,1441.3 961.8,1441.1 964.5,1440.9 967.6,1440.9 971.4,1441 974,1441.2 976.8,1441.5 979.9,1441.9 983.2,1442.3 986.5,1442.7 989.9,1443.1 993.2,1443.5 996.4,1443.9 999.5,1444.2 1002.3,1444.4 1004.8,1444.5 1009,1444.5 1012.2,1444.2 1015,1443.6 1018.1,1442.8 1022.2,1441.7 1024.8,1441 1027.7,1440.1 1030.7,1439.2 1033.9,1438.2 1037.2,1437.2 1040.6,1436.1 1044,1434.9 1047.4,1433.8 1050.7,1432.6 1054,1431.5 1057.1,1430.4 1060.3,1429.3 1063.4,1428.1 1066.5,1427 1069.6,1425.8 1072.8,1424.6 1076,1423.4 1079.2,1422.1 1082.4,1420.8 1085.7,1419.4 1088.8,1418.1 1092,1416.8 1095.2,1415.3 1098.4,1413.8 1101.7,1412.3 1105,1410.8 1108.3,1409.3 1111.5,1407.9 1114.6,1406.5 1117.7,1405.3 1120.6,1404.2 1124.1,1403 1127.5,1402 1130.7,1401.1 1133.9,1400.3 1137.1,1399.6 1140.2,1398.9 1143.2,1398.2 1146.2,1397.6 1149.2,1396.9 1152.5,1396.2 1155.7,1395.5 1158.8,1394.9 1161.9,1394.3 1165,1393.8 1168.1,1393.1 1171.3,1392.4 1174.6,1391.5 1177.6,1390.6 1180.6,1389.5 1183.7,1388.4 1186.7,1387.2 1189.9,1386 1193.1,1384.8 1196.3,1383.8 1199.7,1382.8 1203.2,1382 1206.1,1381.4 1209.2,1380.9 1212.3,1380.4 1215.5,1379.9 1218.8,1379.5 1222.1,1379.2 1225.4,1378.9 1228.6,1378.7 1231.9,1378.7 1235,1378.7 1238.1,1378.8 1241.4,1379.1 1244.6,1379.5 1247.9,1380.1 1251,1380.7 1254.2,1381.5 1257.3,1382.3 1260.4,1383.2 1263.5,1384.1 1266.7,1385.1 1269.8,1386.1 1273.1,1387.2 1276.4,1388.4 1279.8,1389.6 1283.1,1391 1286.5,1392.3 1289.8,1393.7 1293,1395.1 1296.1,1396.4 1298.9,1397.6 1301.6,1398.8 1305.3,1400.5 1308.4,1402.1 1311.1,1403.6 1313.8,1405 1316.9,1406.6 1320.6,1408.3 1323.3,1409.5 1326.1,1410.8 1329.1,1412.1 1332.3,1413.5 1335.5,1414.8 1338.8,1416.2 1342.2,1417.5 1345.6,1418.8 1349,1420 1352.4,1421 1355.4,1421.9 1358.6,1422.7 1361.8,1423.4 1365,1424 1368.2,1424.6 1371.5,1425.2 1374.7,1425.7 1377.9,1426.3 1381.1,1426.8 1384.2,1427.4 1387.3,1428 1390.7,1428.7 1394.1,1429.5 1397.5,1430.3 1400.8,1431.1 1404.2,1431.8 1407.4,1432.6 1410.6,1433.2 1413.6,1433.8 1416.4,1434.3 1419,1434.7 1422.8,1435.1 1425.9,1435.4 1428.6,1435.5 1431.3,1435.3 1434.3,1434.8 1438.1,1434 1440.7,1433.4 1443.6,1432.7 1446.6,1431.8 1449.7,1430.9 1453,1429.8 1456.3,1428.7 1459.7,1427.4 1463.1,1426.1 1466.5,1424.7 1469.8,1423.3 1472.9,1421.8 1476.1,1420.2 1479.3,1418.5 1482.6,1416.7 1485.9,1414.8 1489.1,1412.9 1492.4,1411.1 1495.6,1409.2 1498.8,1407.4 1501.8,1405.8 1504.8,1404.2 1508.3,1402.4 1511.7,1400.8 1515.1,1399.2 1518.4,1397.6 1521.6,1396.2 1524.8,1394.8 1527.7,1393.4 1530.6,1392.1 1533.3,1390.9 1536.9,1389.1 1539.9,1387.4 1542.7,1385.8 1545.4,1384.4 1548.6,1383.1 1552.4,1382 1555.2,1381.4 1558.3,1381 1561.8,1380.6 1565.4,1380.2 1569.1,1379.9 1572.7,1379.7 1576.1,1379.5 1579.2,1379.3 1581.9,1379 1584.1,1378.8 1590,1377.2 1592,1376.7 1594.4,1376.1 1597.1,1375.4 1600.2,1374.6 1603.5,1373.8 1607,1372.9 1610.7,1372 1614.3,1371.1 1618,1370.2 1621.6,1369.3 1625,1368.5 1628.2,1367.7 1631.2,1367.1 1633.8,1366.5 1636,1366.1 1641.7,1365.4 1644.9,1365.5 1647.2,1366.1 1650.3,1366.7 1653.1,1367.2 1656.1,1367.6 1659.1,1368.2 1662.4,1368.9 1665.8,1369.7 1669.4,1370.9 1672.1,1371.9 1674.9,1373 1677.7,1374.2 1680.7,1375.5 1683.8,1376.9 1687.1,1378.5 1690.8,1380.2 1694.8,1382 1697.5,1383.2 1700.5,1384.6 1703.7,1386.1 1707.1,1387.7 1710.6,1389.4 1714.2,1391 1717.8,1392.7 1721.3,1394.3 1724.7,1395.9 1727.9,1397.4 1730.9,1398.8 1733.6,1400 1736,1401 1740.8,1402.9 1744.1,1404.1 1746.5,1404.7 1748.9,1405.4 1751.9,1406.4 1754.9,1407.6 1758.1,1409 1761.4,1410.4 1764.7,1411.9 1767.9,1413.2 1771,1414.4 1774.1,1415.6 1776.8,1416.8 1779.5,1417.9 1782.7,1418.7 1786.8,1419.1 1789.4,1419.2 1792.2,1419.1 1795.2,1418.8 1798.4,1418.5 1801.7,1418.2 1805.1,1417.8 1808.5,1417.5 1812,1417.2 1815.3,1417 1818.6,1416.9 1821.7,1417 1824.9,1417.1 1828,1417.3 1831.1,1417.5 1834.2,1417.8 1837.4,1418.1 1840.6,1418.4 1843.8,1418.7 1847,1418.9 1850.3,1419.1 1853.4,1419.2 1856.5,1419.3 1859.7,1419.4 1862.9,1419.4 1866.2,1419.5 1869.4,1419.5 1872.6,1419.5 1875.9,1419.5 1879,1419.6 1882.2,1419.7 1885.2,1419.8 1888.5,1419.9 1891.8,1420.1 1895,1420.3 1898.2,1420.5 1901.3,1420.8 1904.4,1421 1907.6,1421.2 1910.7,1421.4 1913.8,1421.5 1917,1421.7 1920.1,1421.7 1923.3,1421.7 1926.4,1421.6 1929.5,1421.5 1932.7,1421.4 1935.8,1421.3 1939,1421.3 1942.2,1421.3 1945.4,1421.4 1948.7,1421.7 1951.8,1422 1955.1,1422.4 1958.5,1422.9 1961.9,1423.5 1965.3,1424.1 1968.7,1424.7 1972,1425.4 1975.2,1426 1978.2,1426.5 1981.1,1427 1983.7,1427.4 1987.8,1427.9 1991.3,1428.2 1994.4,1428.4 1997.2,1428.5 1999.9,1428.7 2002.7,1429 2005.8,1429.4 2008.5,1429.9 2011.2,1430.5 2014.4,1431.1 2018.6,1431.8 2021.2,1432.2 2024.1,1432.7 2027.3,1433.2 2030.7,1433.7 2034.2,1434.3 2037.8,1434.8 2041.2,1435.4 2044.5,1435.9 2047.6,1436.4 2050.3,1436.9 2054,1437.7 2057,1438.4 2059.6,1439.1 2062.3,1439.8 2065.4,1440.6 2069.4,1441.3 2071.9,1441.8 2074.6,1442.2 2077.5,1442.7 2080.5,1443.1 2083.6,1443.6 2086.9,1444.1 2090.2,1444.5 2093.6,1445 2097.1,1445.5 2100.7,1446 2104.3,1446.4 2107.2,1446.8 2110.2,1447.2 2113.4,1447.5 2116.6,1447.9 2119.8,1448.3 2123.2,1448.7 2126.5,1449 2129.8,1449.4 2133.2,1449.8 2136.4,1450.2 2139.7,1450.6 2142.8,1451 2145.8,1451.4 2148.7,1451.8 2152.3,1452.4 2155.9,1453 2159.5,1453.6 2162.9,1454.2 2166.3,1454.9 2169.6,1455.5 2172.8,1456.1 2175.8,1456.7 2178.6,1457.3 2181.2,1457.7 2183.7,1458.2 2187.9,1459 2191.1,1459.6 2193.6,1460 2196.2,1460.3 2199.5,1460.4 2202.3,1460.3 2205.2,1460.1 2208.3,1459.8 2211.4,1459.4 2214.7,1459 2218.2,1458.5 2221.7,1458.2 2224.6,1457.9 2227.5,1457.5 2230.4,1457.2 2233.5,1456.8 2236.6,1456.4 2239.9,1456.1 2243.2,1455.8 2246.7,1455.7 2250.3,1455.6 2253.2,1455.7 2256.4,1455.8 2259.8,1456 2263.3,1456.3 2266.9,1456.6 2270.4,1456.9 2273.9,1457.2 2277.3,1457.5 2280.5,1457.8 2283.5,1458.1 2286.1,1458.3 2288.4,1458.5 2294.1,1458.8 2296.8,1458.9 2300,1458.8 2302.9,1458.7 2306,1458.5 2309.2,1458.3 2312.5,1457.9 2315.9,1457.5 2319.1,1457.1 2322.1,1456.8 2325.4,1456.3 2329,1455.5 2333.3,1454.4 2335.7,1453.7 2338.2,1452.9 2340.7,1452.1 2343.4,1451.2 2346.2,1450.3 2349.2,1449.2 2352.4,1448.1 2355.8,1446.8 2359.5,1445.4 2363.5,1443.9 2366,1442.9 2368.7,1441.8 2371.6,1440.7 2374.6,1439.4 2377.8,1438.1 2381,1436.8 2384.3,1435.4 2387.6,1434 2391,1432.6 2394.3,1431.2 2397.7,1429.8 2401,1428.5 2404.2,1427.2 2407.3,1425.9 2410.3,1424.7 2413.2,1423.6 2415.9,1422.6 2419.4,1421.3 2422.7,1420.2 2425.8,1419.2 2428.7,1418.2 2431.5,1417.3 2434.2,1416.5 2437,1415.7 2439.7,1414.9 2442.6,1414.1 2445.7,1413.2 2448.9,1412.2 2452.4,1411.2 2455.2,1410.3 2458.2,1409.4 2461.4,1408.5 2464.7,1407.5 2468.1,1406.5 2471.5,1405.4 2475,1404.4 2478.5,1403.4 2481.9,1402.3 2485.4,1401.3 2488.7,1400.3 2491.9,1399.4 2495,1398.5 2497.9,1397.7 2500.7,1396.9 2503.2,1396.3 2507.5,1395.1 2511.1,1394.2 2514.1,1393.5 2516.9,1392.8 2519.5,1392.3 2522.1,1391.8 2525.1,1391.4 2528.6,1390.9 2531.4,1390.5 2534.3,1390.1 2537.4,1389.6 2540.6,1389.2 2543.8,1388.9 2547.1,1388.5 2550.4,1388.2 2553.7,1388 2557,1387.8 2560.3,1387.7 2563.5,1387.7 2566.7,1387.8 2570.1,1388.1 2573.4,1388.4 2576.9,1388.8 2580.3,1389.3 2583.6,1389.8 2586.9,1390.3 2590,1390.8 2593,1391.3 2595.8,1391.7 2598.4,1392.1 2602.4,1392.7 2605.5,1393.3 2608.1,1393.8 2610.8,1394.3 2613.7,1394.9 2617.5,1395.6 2620.2,1396.2 2623.2,1396.8 2626.5,1397.4 2629.9,1398.2 2633.4,1398.9 2636.9,1399.6 2640.3,1400.3 2643.6,1400.9 2646.6,1401.5 2649.2,1402 2653.9,1402.8 2658.1,1403.4 2661.6,1403.9 2664.5,1404.2 2666.7,1404.5" fill="none" stroke="#fdd835" stroke-width="2" stroke-linejoin="round" stroke-linecap="round"/>
<polyline points="9,1359 26,1342.4 42,1325.1 59,1321.7 76,1344.7 92,1341.9 109,1353 125,1336.4 142,1307.7 159,1313.7 175,1320.5 192,1313 208,1300.9 225,1294.9 242,1288.9 258,1326.6 275,1356 291,1326.6 308,1322.8 325,1298.7 341,1299.4 358,1334.9 374,1374 391,1408.3 408,1422.3 424,1428 441,1405.8 457,1386.7 474,1400.1 491,1390.9 507,1368.3 524,1375.6 540,1350.9 557,1350.9 574,1386.7 590,1381.3 607,1392.1 624,1429 640,1433.4 657,1435 673,1422.3 690,1442.3 707,1455 723,1442.9 740,1453.7 756,1404.2 773,1420.7 790,1431.8 806,1451.2 823,1440.7 839,1440.7 856,1441 873,1461.3 889,1451.8 906,1447.4 922,1457.2 939,1448 956,1434.4 972,1447.4 989,1432.1 1005,1434.4 1022,1390.9 1039,1383.3 1055,1367.7 1072,1359.1 1088,1352.8 1105,1352.1 1122,1351.8 1138,1386.7 1155,1402.6 1171,1401 1188,1358.8 1205,1369.9 1221,1414.4 1238,1412.8 1254,1431.8 1271,1446.4 1288,1456.6 1304,1448.3 1321,1469.3 1337,1444.5 1354,1455.6 1371,1441.3 1387,1441.7 1404,1447.7 1421,1401 1437,1362 1454,1341.7 1470,1331.2 1487,1313.7 1504,1312.1 1520,1356 1537,1336 1553,1356.6 1570,1421 1587,1429.6 1603,1380.7 1620,1380.7 1636,1402 1653,1412.8 1670,1423.3 1686,1433.4 1703,1436.9 1719,1424.8 1736,1421.7 1753,1429 1769,1443.3 1786,1425.5 1802,1409.6 1819,1408.7 1836,1391.5 1852,1405.8 1869,1413.1 1885,1412.1 1902,1437.5 1919,1445.5 1935,1429.6 1952,1435.3 1968,1461.3 1985,1474 2002,1459.1 2018,1467.7 2035,1442.9 2051,1451.8 2068,1438.5 2085,1435.3 2101,1446.7 2118,1450.2 2135,1456.9 2151,1475.6 2168,1475.6 2184,1479.8 2201,1485.2 2218,1451.8 2234,1436.6 2251,1455 2267,1462.9 2284,1463.6 2301,1445.5 2317,1416.9 2334,1402.6 2350,1371.5 2367,1375 2384,1379.8 2400,1389.9 2417,1386.7 2433,1408.3 2450,1377.2 2467,1369.3 2483,1385.2 2500,1394.7 2516,1402.6 2533,1398.5 2550,1394.7 2566,1394.7 2583,1405.2 2599,1407.4 2616,1427.4 2633,1421 2649,1440.1 2666,1440.1" fill="none" stroke="#7e57c2" stroke-width="2" stroke-linejoin="round" stroke-linecap="round"/>
</g>
<g clip-path="url(#cd)">
<rect x="19" y="1576.2" width="14.5" height="13.8" fill="#26a69a"/>
<rect x="35" y="1563.8" width="14.5" height="26.2" fill="#26a69a"/>
<rect x="52" y="1557.9" width="14.5" height="32.1" fill="#26a69a"/>
<rect x="69" y="1560" width="14.5" height="30" fill="#b2dfdb"/>
<rect x="85" y="1563.1" width="14.5" height="26.9" fill="#b2dfdb"/>
<rect x="102" y="1568.3" width="14.5" height="21.7" fill="#b2dfdb"/>
<rect x="118" y="1569" width="14.5" height="21" fill="#b2dfdb"/>
<rect x="135" y="1560" width="14.5" height="30" fill="#26a69a"/>
<rect x="152" y="1557.1" width="14.5" height="32.9" fill="#26a69a"/>
<rect x="168" y="1559" width="14.5" height="31" fill="#b2dfdb"/>
<rect x="185" y="1560" width="14.5" height="30" fill="#b2dfdb"/>
<rect x="201" y="1558.8" width="14.5" height="31.2" fill="#26a69a"/>
<rect x="218" y="1558.8" width="14.5" height="31.2" fill="#26a69a"/>
<rect x="235" y="1557.9" width="14.5" height="32.1" fill="#26a69a"/>
<rect x="251" y="1567.1" width="14.5" height="22.9" fill="#b2dfdb"/>
<rect x="268" y="1581.2" width="14.5" height="8.8" fill="#b2dfdb"/>
<rect x="284" y="1581.2" width="14.5" height="8.8" fill="#b2dfdb"/>
<rect x="301" y="1581.2" width="14.5" height="8.8" fill="#b2dfdb"/>
<rect x="318" y="1573.1" width="14.5" height="16.9" fill="#26a69a"/>
<rect x="334" y="1570" width="14.5" height="20" fill="#26a69a"/>
<rect x="351" y="1577.9" width="14.5" height="12.1" fill="#b2dfdb"/>
<rect x="367" y="1588" width="14.5" height="6.8" fill="#ff5252"/>
<rect x="384" y="1588" width="14.5" height="28.7" fill="#ff5252"/>
<rect x="401" y="1588" width="14.5" height="46.5" fill="#ff5252"/>
<rect x="417" y="1588" width="14.5" height="58.9" fill="#ff5252"/>
<rect x="434" y="1588" width="14.5" height="58.9" fill="#ffcdd2"/>
<rect x="450" y="1588" width="14.5" height="50.6" fill="#ffcdd2"/>
<rect x="467" y="1588" width="14.5" height="47.7" fill="#ffcdd2"/>
<rect x="484" y="1588" width="14.5" height="41.8" fill="#ffcdd2"/>
<rect x="500" y="1588" width="14.5" height="28.7" fill="#ffcdd2"/>
<rect x="517" y="1588" width="14.5" height="22.7" fill="#ffcdd2"/>
<rect x="533" y="1588" width="14.5" height="8.9" fill="#ffcdd2"/>
<rect x="550" y="1588.3" width="14.5" height="1.7" fill="#26a69a"/>
<rect x="567" y="1588" width="14.5" height="5.6" fill="#ff5252"/>
<rect x="583" y="1588" width="14.5" height="6.5" fill="#ff5252"/>
<rect x="600" y="1588" width="14.5" height="11.5" fill="#ff5252"/>
<rect x="617" y="1588" width="14.5" height="25.8" fill="#ff5252"/>
<rect x="633" y="1588" width="14.5" height="35.8" fill="#ff5252"/>
<rect x="650" y="1588" width="14.5" height="40.8" fill="#ff5252"/>
<rect x="666" y="1588" width="14.5" height="38.7" fill="#ffcdd2"/>
<rect x="683" y="1588" width="14.5" height="42.7" fill="#ff5252"/>
<rect x="700" y="1588" width="14.5" height="47.7" fill="#ff5252"/>
<rect x="716" y="1588" width="14.5" height="45.8" fill="#ffcdd2"/>
<rect x="733" y="1588" width="14.5" height="45.8" fill="#ff5252"/>
<rect x="749" y="1588" width="14.5" height="31.8" fill="#ffcdd2"/>
<rect x="766" y="1588" width="14.5" height="25.8" fill="#ffcdd2"/>
<rect x="783" y="1588" width="14.5" height="24.6" fill="#ffcdd2"/>
<rect x="799" y="1588" width="14.5" height="29.6" fill="#ff5252"/>
<rect x="816" y="1588" width="14.5" height="28.7" fill="#ffcdd2"/>
<rect x="832" y="1588" width="14.5" height="25.8" fill="#ffcdd2"/>
<rect x="849" y="1588" width="14.5" height="21.8" fill="#ffcdd2"/>
<rect x="866" y="1588" width="14.5" height="25.8" fill="#ff5252"/>
<rect x="882" y="1588" width="14.5" height="23.7" fill="#ffcdd2"/>
<rect x="899" y="1588" width="14.5" height="19.9" fill="#ffcdd2"/>
<rect x="915" y="1588" width="14.5" height="18.7" fill="#ffcdd2"/>
<rect x="932" y="1588" width="14.5" height="14.9" fill="#ffcdd2"/>
<rect x="949" y="1588" width="14.5" height="7.7" fill="#ffcdd2"/>
<rect x="965" y="1588" width="14.5" height="5.8" fill="#ffcdd2"/>
<rect x="982" y="1588.3" width="14.5" height="1.7" fill="#26a69a"/>
<rect x="998" y="1585" width="14.5" height="5" fill="#26a69a"/>
<rect x="1015" y="1573.1" width="14.5" height="16.9" fill="#26a69a"/>
<rect x="1032" y="1564" width="14.5" height="26" fill="#26a69a"/>
<rect x="1048" y="1555" width="14.5" height="35" fill="#26a69a"/>
<rect x="1065" y="1548.1" width="14.5" height="41.9" fill="#26a69a"/>
<rect x="1081" y="1544" width="14.5" height="46" fill="#26a69a"/>
<rect x="1098" y="1542.1" width="14.5" height="47.9" fill="#26a69a"/>
<rect x="1115" y="1544" width="14.5" height="46" fill="#b2dfdb"/>
<rect x="1131" y="1553.1" width="14.5" height="36.9" fill="#b2dfdb"/>
<rect x="1148" y="1563.1" width="14.5" height="26.9" fill="#b2dfdb"/>
<rect x="1164" y="1570.2" width="14.5" height="19.8" fill="#b2dfdb"/>
<rect x="1181" y="1567.1" width="14.5" height="22.9" fill="#26a69a"/>
<rect x="1198" y="1568.3" width="14.5" height="21.7" fill="#b2dfdb"/>
<rect x="1214" y="1579" width="14.5" height="11" fill="#b2dfdb"/>
<rect x="1231" y="1586.2" width="14.5" height="3.8" fill="#b2dfdb"/>
<rect x="1247" y="1588" width="14.5" height="8.9" fill="#ff5252"/>
<rect x="1264" y="1588" width="14.5" height="17.5" fill="#ff5252"/>
<rect x="1281" y="1588" width="14.5" height="25.8" fill="#ff5252"/>
<rect x="1297" y="1588" width="14.5" height="28" fill="#ff5252"/>
<rect x="1314" y="1588" width="14.5" height="33.9" fill="#ff5252"/>
<rect x="1330" y="1588" width="14.5" height="31.8" fill="#ffcdd2"/>
<rect x="1347" y="1588" width="14.5" height="31.8" fill="#ff5252"/>
<rect x="1364" y="1588" width="14.5" height="26.8" fill="#ffcdd2"/>
<rect x="1380" y="1588" width="14.5" height="22.7" fill="#ffcdd2"/>
<rect x="1397" y="1588" width="14.5" height="19.9" fill="#ffcdd2"/>
<rect x="1414" y="1588" width="14.5" height="8.9" fill="#ffcdd2"/>
<rect x="1430" y="1579" width="14.5" height="11" fill="#26a69a"/>
<rect x="1447" y="1562.1" width="14.5" height="27.9" fill="#26a69a"/>
<rect x="1463" y="1549" width="14.5" height="41" fill="#26a69a"/>
<rect x="1480" y="1537.1" width="14.5" height="52.9" fill="#26a69a"/>
<rect x="1497" y="1531" width="14.5" height="59" fill="#26a69a"/>
<rect x="1513" y="1539" width="14.5" height="51" fill="#b2dfdb"/>
<rect x="1530" y="1540.2" width="14.5" height="49.8" fill="#b2dfdb"/>
<rect x="1546" y="1548.1" width="14.5" height="41.9" fill="#b2dfdb"/>
<rect x="1563" y="1574.3" width="14.5" height="15.7" fill="#b2dfdb"/>
<rect x="1580" y="1588" width="14.5" height="7.7" fill="#ff5252"/>
<rect x="1596" y="1588" width="14.5" height="4.9" fill="#ffcdd2"/>
<rect x="1613" y="1588" width="14.5" height="2.7" fill="#ffcdd2"/>
<rect x="1629" y="1588" width="14.5" height="8.9" fill="#ff5252"/>
<rect x="1646" y="1588" width="14.5" height="16.8" fill="#ff5252"/>
<rect x="1663" y="1588" width="14.5" height="24.6" fill="#ff5252"/>
<rect x="1679" y="1588" width="14.5" height="32.7" fill="#ff5252"/>
<rect x="1696" y="1588" width="14.5" height="37.7" fill="#ff5252"/>
<rect x="1712" y="1588" width="14.5" height="35.8" fill="#ffcdd2"/>
<rect x="1729" y="1588" width="14.5" height="31.8" fill="#ffcdd2"/>
<rect x="1746" y="1588" width="14.5" height="29.9" fill="#ffcdd2"/>
<rect x="1762" y="1588" width="14.5" height="31.8" fill="#ff5252"/>
<rect x="1779" y="1588" width="14.5" height="26.8" fill="#ffcdd2"/>
<rect x="1795" y="1588" width="14.5" height="17.5" fill="#ffcdd2"/>
<rect x="1812" y="1588" width="14.5" height="11.5" fill="#ffcdd2"/>
<rect x="1829" y="1588" width="14.5" height="2" fill="#ffcdd2"/>
<rect x="1845" y="1587.4" width="14.5" height="2.6" fill="#26a69a"/>
<rect x="1862" y="1587.6" width="14.5" height="2.4" fill="#b2dfdb"/>
<rect x="1878" y="1586.2" width="14.5" height="3.8" fill="#26a69a"/>
<rect x="1895" y="1588" width="14.5" height="5.6" fill="#ff5252"/>
<rect x="1912" y="1588" width="14.5" height="10.6" fill="#ff5252"/>
<rect x="1928" y="1588" width="14.5" height="10.6" fill="#ffcdd2"/>
<rect x="1945" y="1588" width="14.5" height="10.6" fill="#ff5252"/>
<rect x="1961" y="1588" width="14.5" height="17.5" fill="#ff5252"/>
<rect x="1978" y="1588" width="14.5" height="25.8" fill="#ff5252"/>
<rect x="1995" y="1588" width="14.5" height="25.8" fill="#ff5252"/>
<rect x="2011" y="1588" width="14.5" height="26.8" fill="#ff5252"/>
<rect x="2028" y="1588" width="14.5" height="21.8" fill="#ffcdd2"/>
<rect x="2044" y="1588" width="14.5" height="18.7" fill="#ffcdd2"/>
<rect x="2061" y="1588" width="14.5" height="12.7" fill="#ffcdd2"/>
<rect x="2078" y="1588" width="14.5" height="7.7" fill="#ffcdd2"/>
<rect x="2094" y="1588" width="14.5" height="6.8" fill="#ffcdd2"/>
<rect x="2111" y="1588" width="14.5" height="5.8" fill="#ffcdd2"/>
<rect x="2128" y="1588" width="14.5" height="5.8" fill="#ffcdd2"/>
<rect x="2144" y="1588" width="14.5" height="9.6" fill="#ff5252"/>
<rect x="2161" y="1588" width="14.5" height="10.6" fill="#ff5252"/>
<rect x="2177" y="1588" width="14.5" height="11.5" fill="#ff5252"/>
<rect x="2194" y="1588" width="14.5" height="12.7" fill="#ff5252"/>
<rect x="2211" y="1588" width="14.5" height="6.8" fill="#ffcdd2"/>
<rect x="2227" y="1588.1" width="14.5" height="1.9" fill="#26a69a"/>
<rect x="2244" y="1587.1" width="14.5" height="2.9" fill="#26a69a"/>
<rect x="2260" y="1588.3" width="14.5" height="1.7" fill="#b2dfdb"/>
<rect x="2277" y="1587.1" width="14.5" height="2.9" fill="#26a69a"/>
<rect x="2294" y="1583.8" width="14.5" height="6.2" fill="#26a69a"/>
<rect x="2310" y="1576.9" width="14.5" height="13.1" fill="#26a69a"/>
<rect x="2327" y="1571" width="14.5" height="19" fill="#26a69a"/>
<rect x="2343" y="1562.1" width="14.5" height="27.9" fill="#26a69a"/>
<rect x="2360" y="1557.1" width="14.5" height="32.9" fill="#26a69a"/>
<rect x="2377" y="1556.2" width="14.5" height="33.8" fill="#26a69a"/>
<rect x="2393" y="1557.9" width="14.5" height="32.1" fill="#b2dfdb"/>
<rect x="2410" y="1560" width="14.5" height="30" fill="#b2dfdb"/>
<rect x="2426" y="1565" width="14.5" height="25" fill="#b2dfdb"/>
<rect x="2443" y="1565" width="14.5" height="25" fill="#26a69a"/>
<rect x="2460" y="1564" width="14.5" height="26" fill="#26a69a"/>
<rect x="2476" y="1567.1" width="14.5" height="22.9" fill="#b2dfdb"/>
<rect x="2493" y="1571" width="14.5" height="19" fill="#b2dfdb"/>
<rect x="2509" y="1576.2" width="14.5" height="13.8" fill="#b2dfdb"/>
<rect x="2526" y="1578.1" width="14.5" height="11.9" fill="#b2dfdb"/>
<rect x="2543" y="1580" width="14.5" height="10" fill="#b2dfdb"/>
<rect x="2559" y="1581.2" width="14.5" height="8.8" fill="#b2dfdb"/>
<rect x="2576" y="1583.1" width="14.5" height="6.9" fill="#b2dfdb"/>
<rect x="2592" y="1585" width="14.5" height="5" fill="#b2dfdb"/>
<rect x="2609" y="1588.1" width="14.5" height="1.9" fill="#b2dfdb"/>
<rect x="2626" y="1588" width="14.5" height="3.7" fill="#ff5252"/>
<rect x="2642" y="1588" width="14.5" height="6.5" fill="#ff5252"/>
<rect x="2659" y="1588" width="14.5" height="8.7" fill="#ff5252"/>
<line x1="20" y1="1589" x2="3086" y2="1589" stroke="rgba(120,123,134,0.6)" stroke-width="2" stroke-dasharray="10 12"/>
<polyline points="15,1571.4 38.8,1563.8 62.6,1553.6 98.3,1541.7 122.1,1531 148.3,1519 174.5,1509 186.4,1502.4 229.3,1464.3 372.1,1464.3 438.8,1502.4 450.7,1509 467.4,1519 488.8,1533.3 515,1542.9 538.8,1547.6 565,1547.6 591.2,1549.5 600,1550.5 623.8,1557.1 640.5,1566.2 657.1,1577.4 673.8,1585.7 690.5,1597.6 707.1,1609.5 723.8,1620.2 740.5,1629.8 754.8,1635.7 771.4,1642.1 789.3,1648.1 804.8,1655.5 821.4,1662.6 838.1,1667.9 856,1672.6 871.4,1678.1 888.1,1682.9 904.8,1687.1 921.4,1691.2 938.1,1694 954.8,1695.7 971.4,1696.7 988.1,1696.7 1004.8,1695.5 1021.4,1691.7 1038.1,1684.5 1054.8,1676.7 1071.4,1666.2 1088.1,1654.8 1104.8,1643.6 1121.4,1632.1 1138.1,1622.6 1154.8,1616 1171.4,1610.7 1188.1,1604.8 1204.3,1599.5 1221,1597.1 1237.6,1596.7 1254.3,1598.1 1271,1601.9 1287.6,1608.3 1304.3,1614.3 1321,1622.6 1337.6,1629.3 1354.3,1636.2 1371,1642.9 1387.6,1647.6 1404.3,1652.4 1421,1654 1437.6,1651.7 1454.3,1644.8 1471,1634.5 1486.4,1622.6 1503.1,1609.5 1519.8,1596 1535.2,1582.6 1553.1,1571.9 1569.8,1568.3 1585.2,1569 1601.9,1569.5 1618.6,1569.8 1635.2,1571 1651.9,1574.5 1668.6,1579.8 1685.2,1588.1 1701.9,1596.9 1718.6,1605.5 1735.2,1613.6 1751.9,1620.5 1768.6,1627.4 1785.2,1634.5 1801.4,1637.6 1819.3,1640 1834.8,1640 1851.4,1639 1868.1,1638.6 1886,1638.1 1901.4,1639 1918.1,1641 1934.8,1642.9 1951.4,1645.2 1968.1,1649.3 1984.8,1654.8 2001.4,1660.7 2018.1,1666.7 2034.8,1672.1 2051.4,1676.2 2068.1,1679.3 2084.8,1681 2101.4,1681.7 2118.1,1682.6 2134.8,1683.3 2151.4,1685 2168.1,1687.4 2184.8,1690 2201.4,1692.4 2218.1,1693.3 2234.8,1692.9 2251.4,1692.4 2268.1,1692.1 2284.8,1691.7 2300.2,1690.5 2316.9,1688.1 2333.6,1682.9 2351.4,1674.5 2365.7,1666.7 2384.3,1658.8 2398.6,1651.4 2416.4,1643.6 2433.1,1638.1 2448.6,1632.1 2465.2,1625.5 2481.9,1620.2 2498.6,1615.5 2515.2,1611.9 2531.9,1609 2548.6,1606.4 2565.2,1604.3 2581.9,1602.9 2598.6,1602.1 2615.2,1602.1 2631.9,1602.9 2648.6,1603.8 2666.4,1605" fill="none" stroke="#f23645" stroke-width="2" stroke-linejoin="round" stroke-linecap="round"/>
<polyline points="15,1562.4 38.8,1539.3 57.9,1523.1 91.2,1514.3 107.9,1514.8 126.9,1509 138.8,1502.4 205.5,1452.4 324.5,1452.4 391.2,1500 403.1,1509 419.8,1534.5 441.2,1557.1 457.9,1561.2 476.9,1570.2 490,1573.8 507.9,1567.9 524.5,1566.2 541.2,1556 557.9,1546.4 574.5,1551.2 591.2,1554.3 604.8,1560.7 619,1578.6 638.1,1600 654.8,1614.3 673.8,1622.6 688.1,1634.5 706,1652.4 721.4,1660.7 740.5,1672.6 756,1665 771.4,1666 789.3,1670.2 804.8,1682.1 823.8,1688.1 838.1,1690 856,1691.2 871.4,1701.2 888.1,1704 904.8,1704.3 921.4,1707.9 938.1,1706.7 954.8,1701.7 971.4,1700.7 988.1,1696 1004.8,1691 1021.4,1675 1038.1,1658.3 1054.8,1642.4 1071.4,1625 1088.1,1609 1104.8,1596.9 1121.4,1585.7 1138.1,1585.2 1154.8,1588.8 1171.4,1591.2 1188.1,1582.1 1204.3,1578.1 1221,1586.9 1240,1594.8 1254.3,1604.8 1271,1616.7 1287.6,1631 1304.3,1639.8 1319.8,1653.6 1337.6,1659 1354.3,1666.2 1371,1668.1 1387.6,1668.8 1403.1,1670.5 1419.8,1661.2 1437.6,1641.4 1454.3,1618.3 1471,1594.8 1486.4,1569 1503.1,1549.3 1519.8,1544.5 1535.2,1532.9 1553.1,1530 1568.6,1551.2 1585.2,1574.5 1601.9,1572.6 1618.6,1571 1635.2,1578.6 1651.9,1590 1668.6,1602.9 1685.2,1617.9 1701.9,1633.3 1718.6,1639.3 1735.2,1642.9 1751.9,1648.1 1768.6,1656.7 1785.2,1657.6 1801.4,1653.6 1819.3,1649.5 1834.8,1640.5 1851.4,1636.9 1868.1,1636.4 1886,1635.2 1901.4,1642.4 1918.1,1650 1934.8,1651.7 1951.4,1654.8 1968.1,1666.7 1984.8,1678.6 2001.4,1685.2 2018.1,1692.4 2034.8,1691.7 2051.4,1693.3 2068.1,1689.8 2084.8,1686.2 2101.4,1686 2118.1,1685.7 2134.8,1686.9 2151.4,1692.9 2168.1,1697.1 2184.8,1700.5 2200.2,1703.1 2218.1,1698.8 2234.8,1691 2251.4,1689.8 2268.1,1690 2284.8,1689.3 2300.2,1684.5 2316.9,1675.7 2333.6,1663.8 2351.4,1646.4 2365.7,1635.2 2384.3,1625.5 2398.6,1620.2 2416.4,1614.3 2433.1,1613.8 2448.6,1606.7 2465.2,1600 2481.9,1597.6 2498.6,1597.1 2515.2,1598.1 2531.9,1598.1 2548.6,1597.1 2565.2,1596.4 2581.9,1597.1 2598.6,1598.1 2615.2,1601.9 2631.9,1604 2648.6,1608.3 2666.4,1611.2" fill="none" stroke="#2962ff" stroke-width="2" stroke-linejoin="round" stroke-linecap="round"/>
</g>
<rect x="20" y="1261.5" width="3210" height="2" fill="#e0e3eb"/>
<rect x="20" y="1506.5" width="3210" height="2" fill="#e0e3eb"/>
<rect x="20" y="1722" width="3210" height="2" fill="#f5f5f5"/>
<rect x="3086" y="54" width="1.5" height="1724" fill="#f8f8f8"/>
<rect x="20" y="54" width="3210" height="1724" fill="none" stroke="#f4f4f4" stroke-width="2"/>
<text x="36.7" y="93.9" font-size="24" fill="#131722" textLength="327.6" lengthAdjust="spacing">SPX6900 / USDT · 1D · MEXC</text>
<text x="380.6" y="93.9" font-size="24" fill="#131722" textLength="94.7" lengthAdjust="spacing">O0.5472</text>
<text x="491.4" y="93.9" font-size="24" fill="#131722" textLength="96.6" lengthAdjust="spacing">H0.5543</text>
<text x="602.6" y="93.9" font-size="24" fill="#131722" textLength="93" lengthAdjust="spacing">L0.5432</text>
<text x="710.5" y="93.9" font-size="24" fill="#131722" textLength="96.1" lengthAdjust="spacing">C0.5467</text>
<text x="821.8" y="93.9" font-size="24" fill="#131722" textLength="176" lengthAdjust="spacing">0.0000 (0.00%)</text>
<text x="36.7" y="128.1" font-size="24" fill="#131722" textLength="223.3" lengthAdjust="spacing">EMA 20/50/100/200</text>
<text x="276.7" y="128.1" font-size="24" fill="#ff7800" textLength="76.5" lengthAdjust="spacing">0.7088</text>
<text x="369.7" y="128.1" font-size="24" fill="#00ffff" textLength="77.8" lengthAdjust="spacing">0.8653</text>
<text x="463.5" y="128.1" font-size="24" fill="#0000ff" textLength="77.2" lengthAdjust="spacing">0.9798</text>
<text x="37.3" y="1304" font-size="24" fill="#131722" textLength="159" lengthAdjust="spacing">RSI (14, close)</text>
<text x="213" y="1304" font-size="24" fill="#7e57c2" textLength="64.5" lengthAdjust="spacing">38.98</text>
<text x="293" y="1304" font-size="24" fill="#fdd835" textLength="64.5" lengthAdjust="spacing">46.85</text>
<text x="36.9" y="1548.8" font-size="24" fill="#131722" textLength="235" lengthAdjust="spacing">MACD (12, 26, close)</text>
<text x="288.8" y="1548.8" font-size="24" fill="#ff5252" textLength="89" lengthAdjust="spacing">−0.0074</text>
<text x="395.2" y="1548.8" font-size="24" fill="#2962ff" textLength="89" lengthAdjust="spacing">−0.0264</text>
<text x="505.5" y="1548.8" font-size="24" fill="#f23645" textLength="88" lengthAdjust="spacing">−0.0190</text>
<rect x="3094" y="62" width="128" height="51" rx="8" fill="#fff" stroke="#f0f0f0" stroke-width="1.5"/>
<text x="3112" y="96" font-size="24" fill="#000" textLength="65" lengthAdjust="spacing">USDT</text>
<text x="3105.5" y="147.1" font-size="24" fill="#131722" textLength="80.5" lengthAdjust="spacing">2.6000</text>
<text x="3105.5" y="220.6" font-size="24" fill="#131722" textLength="80.5" lengthAdjust="spacing">2.2000</text>
<text x="3105.5" y="285.1" font-size="24" fill="#131722" textLength="80.5" lengthAdjust="spacing">1.9000</text>
<text x="3105.5" y="360.7" font-size="24" fill="#131722" textLength="80.5" lengthAdjust="spacing">1.6000</text>
<text x="3105.5" y="452.1" font-size="24" fill="#131722" textLength="80.5" lengthAdjust="spacing">1.3000</text>
<text x="3105.5" y="525.6" font-size="24" fill="#131722" textLength="80.5" lengthAdjust="spacing">1.1000</text>
<text x="3105.5" y="590.1" font-size="24" fill="#131722" textLength="80.5" lengthAdjust="spacing">0.9500</text>
<text x="3105.5" y="665.7" font-size="24" fill="#131722" textLength="80.5" lengthAdjust="spacing">0.8000</text>
<text x="3105.5" y="757.1" font-size="24" fill="#131722" textLength="80.5" lengthAdjust="spacing">0.6500</text>
<text x="3105.5" y="830.6" font-size="24" fill="#131722" textLength="80.5" lengthAdjust="spacing">0.5500</text>
<text x="3105.5" y="899.8" font-size="24" fill="#131722" textLength="80.5" lengthAdjust="spacing">0.4700</text>
<text x="3105.5" y="959.8" font-size="24" fill="#131722" textLength="80.5" lengthAdjust="spacing">0.4100</text>
<text x="3105.5" y="1029.5" font-size="24" fill="#131722" textLength="80.5" lengthAdjust="spacing">0.3500</text>
<text x="3105.5" y="1097.3" font-size="24" fill="#131722" textLength="80.5" lengthAdjust="spacing">0.3000</text>
<text x="3105.5" y="1160.3" font-size="24" fill="#131722" textLength="80.5" lengthAdjust="spacing">0.2600</text>
<text x="3105.5" y="1223.9" font-size="24" fill="#131722" textLength="80.5" lengthAdjust="spacing">0.2250</text>
<path d="M3088,145 H3194 Q3198,145 3198,149 V175 Q3198,179 3194,179 H3088 Z" fill="#000"/>
<text x="3105.5" y="171" font-size="24" fill="#fff" textLength="80.5" lengthAdjust="spacing">2.2817</text>
<path d="M3088,180 H3194 Q3198,180 3198,184 V208.6 Q3198,212.6 3194,212.6 H3088 Z" fill="#e3effd"/>
<text x="3105.5" y="205.3" font-size="24" fill="#131722" textLength="80.5" lengthAdjust="spacing">2.2817</text>
<path d="M3020,179.5 H3086 V212.6 H3020 Q3016,212.6 3016,208.6 V183.5 Q3016,179.5 3020,179.5 Z" fill="#e3effd"/>
<text x="3026" y="202.8" font-size="24" fill="#131722" textLength="51.5" lengthAdjust="spacing">High</text>
<path d="M3088,238.5 H3194 Q3198,238.5 3198,242.5 V267 Q3198,271 3194,271 H3088 Z" fill="#000"/>
<text x="3105.5" y="263.8" font-size="24" fill="#fff" textLength="80.5" lengthAdjust="spacing">1.9923</text>
<path d="M3088,318.7 H3194 Q3198,318.7 3198,322.7 V348.5 Q3198,352.5 3194,352.5 H3088 Z" fill="#000"/>
<text x="3105.5" y="344.6" font-size="24" fill="#fff" textLength="80.5" lengthAdjust="spacing">1.6575</text>
<path d="M3088,538.2 H3194 Q3198,538.2 3198,542.2 V567.7 Q3198,571.7 3194,571.7 H3088 Z" fill="#0000ff"/>
<text x="3105.5" y="564" font-size="24" fill="#fff" textLength="80.5" lengthAdjust="spacing">0.9798</text>
<path d="M3088,572.4 H3194 Q3198,572.4 3198,576.4 V601.4 Q3198,605.4 3194,605.4 H3088 Z" fill="#000"/>
<text x="3105.5" y="597.9" font-size="24" fill="#fff" textLength="80.5" lengthAdjust="spacing">0.9018</text>
<path d="M3088,606 H3194 Q3198,606 3198,610 V635.6 Q3198,639.6 3194,639.6 H3088 Z" fill="#00ffff"/>
<text x="3105.5" y="631.8" font-size="24" fill="#000" textLength="80.5" lengthAdjust="spacing">0.8653</text>
<path d="M3088,694 H3194 Q3198,694 3198,698 V723.6 Q3198,727.6 3194,727.6 H3088 Z" fill="#ff7f00"/>
<text x="3105.5" y="719.8" font-size="24" fill="#fff" textLength="80.5" lengthAdjust="spacing">0.7088</text>
<path d="M3088,774.2 H3194 Q3198,774.2 3198,778.2 V803 Q3198,807 3194,807 H3088 Z" fill="#000"/>
<text x="3105.5" y="799.6" font-size="24" fill="#fff" textLength="80.5" lengthAdjust="spacing">0.5683</text>
<path d="M3088,808.5 H3215.7 Q3219.7,808.5 3219.7,812.5 V865.6 Q3219.7,869.6 3215.7,869.6 H3088 Z" fill="#000"/>
<text x="3105.5" y="831.5" font-size="24" fill="#fff" textLength="79" lengthAdjust="spacing">0.5467</text>
<text x="3105.5" y="859.5" font-size="24" fill="#c8c8c8" textLength="101" lengthAdjust="spacing">22:29:06</text>
<path d="M3088,909 H3194 Q3198,909 3198,913 V938.4 Q3198,942.4 3194,942.4 H3088 Z" fill="#e3effd"/>
<text x="3105.5" y="934.7" font-size="24" fill="#131722" textLength="80.5" lengthAdjust="spacing">0.4348</text>
<path d="M3028,909 H3086 V942.4 H3028 Q3024,942.4 3024,938.4 V913 Q3024,909 3028,909 Z" fill="#e3effd"/>
<text x="3032.5" y="934.5" font-size="24" fill="#131722" textLength="46" lengthAdjust="spacing">Low</text>
<path d="M3088,968 H3194 Q3198,968 3198,972 V997 Q3198,1001 3194,1001 H3088 Z" fill="#000"/>
<text x="3105.5" y="993.5" font-size="24" fill="#fff" textLength="80.5" lengthAdjust="spacing">0.3800</text>
<text x="3105.5" y="1353.4" font-size="24" fill="#131722" textLength="65" lengthAdjust="spacing">60.00</text>
<path d="M3088,1388.6 H3178 Q3182,1388.6 3182,1392.6 V1417.6 Q3182,1421.6 3178,1421.6 H3088 Z" fill="#fdd835"/>
<text x="3105.5" y="1414.1" font-size="24" fill="#000" textLength="65" lengthAdjust="spacing">46.85</text>
<path d="M3088,1424 H3178 Q3182,1424 3182,1428 V1453.7 Q3182,1457.7 3178,1457.7 H3088 Z" fill="#7e57c2"/>
<text x="3105.5" y="1449.8" font-size="24" fill="#fff" textLength="65" lengthAdjust="spacing">38.98</text>
<text x="3105.5" y="1680.4" font-size="24" fill="#131722" textLength="95" lengthAdjust="spacing">−0.1000</text>
<path d="M3088,1579 H3207.6 Q3211.6,1579 3211.6,1583 V1608.4 Q3211.6,1612.4 3207.6,1612.4 H3088 Z" fill="#ff5252"/>
<text x="3105.5" y="1604.7" font-size="24" fill="#fff" textLength="95" lengthAdjust="spacing">−0.0074</text>
<path d="M3088,1612 H3207.6 Q3211.6,1612 3211.6,1616 V1643.6 Q3211.6,1647.6 3207.6,1647.6 H3088 Z" fill="#f23645"/>
<text x="3105.5" y="1638.8" font-size="24" fill="#fff" textLength="95" lengthAdjust="spacing">−0.0190</text>
<path d="M3088,1647.4 H3207.6 Q3211.6,1647.4 3211.6,1651.4 V1676.4 Q3211.6,1680.4 3207.6,1680.4 H3088 Z" fill="#2962ff"/>
<text x="3105.5" y="1672.9" font-size="24" fill="#fff" textLength="95" lengthAdjust="spacing">−0.0264</text>
<text x="407.5" y="1760.5" font-size="24" fill="#131722" text-anchor="middle">Aug</text>
<text x="922" y="1760.5" font-size="24" fill="#131722" text-anchor="middle">Sep</text>
<text x="1420.5" y="1760.5" font-size="24" fill="#131722" text-anchor="middle">Oct</text>
<text x="1934.5" y="1760.5" font-size="24" fill="#131722" text-anchor="middle">Nov</text>
<text x="2432.5" y="1760.5" font-size="24" fill="#131722" text-anchor="middle">Dec</text>
<text x="2917.8" y="1759.9" font-size="24.6" fill="#131722" font-weight="bold" textLength="62" lengthAdjust="spacing">2026</text>
<g fill="#131313">
<path d="M24,1822 H47.8 V1851.7 H36.1 V1833.6 H24 Z"/>
<circle cx="57.9" cy="1827.9" r="5.9"/>
<path d="M70,1822 H83.8 L71.9,1851.7 H58.1 Z"/>
</g>
<text x="97.6" y="1851.8" font-size="42.5" fill="#131313" font-weight="bold" textLength="241.8" lengthAdjust="spacing">TradingView</text>
</svg>
</body></html>
